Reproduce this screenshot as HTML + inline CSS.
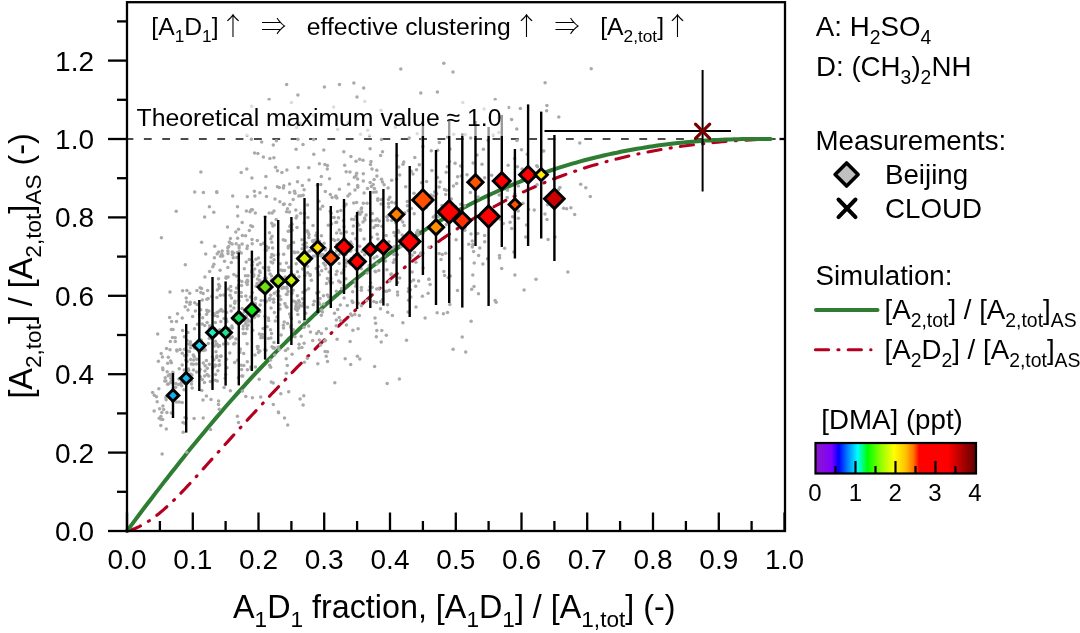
<!DOCTYPE html>
<html><head><meta charset="utf-8"><title>A2,tot ratio vs A1D1 fraction</title><style>
html,body{margin:0;padding:0;background:#fff;overflow:hidden;}
svg{display:block;}
text{font-family:"Liberation Sans",Arial,sans-serif;fill:#000;}
</style></head><body>
<svg width="1080" height="633" viewBox="0 0 1080 633">
<rect width="1080" height="633" fill="#fff"/>
<line x1="127.0" y1="139.0" x2="785" y2="139.0" stroke="#4a4a4a" stroke-width="1.9" stroke-dasharray="7.8 10.55" stroke-dashoffset="1.45"/>
<path d="M127.0,531.1 L131.0,529.9 L135.1,528.5 L139.1,526.7 L143.2,524.5 L147.2,522.1 L151.3,519.4 L155.3,516.5 L159.4,513.3 L163.4,509.9 L167.5,506.2 L171.5,502.5 L175.6,498.5 L179.6,494.4 L183.7,490.2 L187.7,485.9 L191.8,481.5 L195.8,477.1 L199.9,472.6 L203.9,468.1 L208.0,463.5 L212.0,459.0 L216.1,454.5 L220.1,450.1 L224.1,445.6 L228.2,441.1 L232.2,436.6 L236.3,432.2 L240.3,427.8 L244.4,423.3 L248.4,418.9 L252.5,414.5 L256.5,410.2 L260.6,405.8 L264.6,401.5 L268.7,397.2 L272.7,392.8 L276.8,388.6 L280.8,384.3 L284.9,380.1 L288.9,375.8 L293.0,371.6 L297.0,367.4 L301.1,363.3 L305.1,359.2 L309.2,355.1 L313.2,351.0 L317.2,346.9 L321.3,342.9 L325.3,338.9 L329.4,334.9 L333.4,331.0 L337.5,327.1 L341.5,323.2 L345.6,319.4 L349.6,315.6 L353.7,311.8 L357.7,308.1 L361.8,304.3 L365.8,300.7 L369.9,297.0 L373.9,293.4 L378.0,289.9 L382.0,286.3 L386.1,282.9 L390.1,279.4 L394.2,276.0 L398.2,272.7 L402.3,269.3 L406.3,266.1 L410.3,262.8 L414.4,259.6 L418.4,256.5 L422.5,253.4 L426.5,250.3 L430.6,247.3 L434.6,244.4 L438.7,241.5 L442.7,238.6 L446.8,235.8 L450.8,233.1 L454.9,230.3 L458.9,227.7 L463.0,225.1 L467.0,222.5 L471.1,220.0 L475.1,217.6 L479.2,215.2 L483.2,212.8 L487.3,210.5 L491.3,208.2 L495.3,206.0 L499.4,203.8 L503.4,201.7 L507.5,199.6 L511.5,197.6 L515.6,195.6 L519.6,193.7 L523.7,191.8 L527.7,189.9 L531.8,188.1 L535.8,186.3 L539.9,184.6 L543.9,182.9 L548.0,181.2 L552.0,179.6 L556.1,178.0 L560.1,176.5 L564.2,175.0 L568.2,173.6 L572.3,172.1 L576.3,170.8 L580.4,169.4 L584.4,168.1 L588.4,166.8 L592.5,165.6 L596.5,164.4 L600.6,163.2 L604.6,162.1 L608.7,161.0 L612.7,159.9 L616.8,158.9 L620.8,157.9 L624.9,156.9 L628.9,156.0 L633.0,155.1 L637.0,154.2 L641.1,153.3 L645.1,152.5 L649.2,151.7 L653.2,150.9 L657.3,150.2 L661.3,149.5 L665.4,148.8 L669.4,148.2 L673.5,147.5 L677.5,146.9 L681.5,146.3 L685.6,145.8 L689.6,145.3 L693.7,144.8 L697.7,144.3 L701.8,143.8 L705.8,143.4 L709.9,142.9 L713.9,142.5 L718.0,142.2 L722.0,141.8 L726.1,141.5 L730.1,141.2 L734.2,140.9 L738.2,140.6 L742.3,140.3 L746.3,140.1 L750.4,139.9 L754.4,139.6 L758.5,139.4 L762.5,139.3 L766.6,139.1 L770.6,139.0" fill="none" stroke="#b2001e" stroke-width="3.1" stroke-linecap="round" stroke-dasharray="13.2 9.3 1.1 9.2" stroke-dashoffset="-1.2"/>
<path d="M127.0,531.0 L131.0,525.6 L135.1,520.1 L139.1,514.7 L143.2,509.3 L147.2,504.0 L151.3,498.7 L155.3,493.4 L159.4,488.1 L163.4,482.9 L167.5,477.7 L171.5,472.5 L175.6,467.4 L179.6,462.3 L183.7,457.2 L187.7,452.1 L191.8,447.1 L195.8,442.2 L199.9,437.3 L203.9,432.4 L208.0,427.5 L212.0,422.7 L216.1,417.9 L220.1,413.2 L224.1,408.5 L228.2,403.8 L232.2,399.2 L236.3,394.6 L240.3,390.1 L244.4,385.6 L248.4,381.1 L252.5,376.7 L256.5,372.3 L260.6,368.0 L264.6,363.8 L268.7,359.5 L272.7,355.3 L276.8,351.2 L280.8,347.1 L284.9,343.1 L288.9,339.0 L293.0,335.1 L297.0,331.2 L301.1,327.3 L305.1,323.5 L309.2,319.7 L313.2,315.9 L317.2,312.2 L321.3,308.6 L325.3,305.0 L329.4,301.4 L333.4,297.9 L337.5,294.4 L341.5,291.0 L345.6,287.6 L349.6,284.3 L353.7,281.0 L357.7,277.7 L361.8,274.5 L365.8,271.3 L369.9,268.2 L373.9,265.1 L378.0,262.1 L382.0,259.1 L386.1,256.1 L390.1,253.2 L394.2,250.3 L398.2,247.5 L402.3,244.7 L406.3,242.0 L410.3,239.3 L414.4,236.6 L418.4,234.0 L422.5,231.5 L426.5,228.9 L430.6,226.4 L434.6,224.0 L438.7,221.6 L442.7,219.2 L446.8,216.9 L450.8,214.6 L454.9,212.4 L458.9,210.2 L463.0,208.0 L467.0,205.9 L471.1,203.8 L475.1,201.8 L479.2,199.8 L483.2,197.8 L487.3,195.9 L491.3,194.0 L495.3,192.2 L499.4,190.3 L503.4,188.6 L507.5,186.8 L511.5,185.1 L515.6,183.4 L519.6,181.8 L523.7,180.2 L527.7,178.7 L531.8,177.1 L535.8,175.6 L539.9,174.2 L543.9,172.8 L548.0,171.4 L552.0,170.0 L556.1,168.7 L560.1,167.4 L564.2,166.1 L568.2,164.9 L572.3,163.7 L576.3,162.6 L580.4,161.4 L584.4,160.3 L588.4,159.3 L592.5,158.2 L596.5,157.2 L600.6,156.3 L604.6,155.3 L608.7,154.4 L612.7,153.5 L616.8,152.7 L620.8,151.8 L624.9,151.0 L628.9,150.3 L633.0,149.5 L637.0,148.8 L641.1,148.1 L645.1,147.5 L649.2,146.8 L653.2,146.2 L657.3,145.6 L661.3,145.1 L665.4,144.6 L669.4,144.1 L673.5,143.6 L677.5,143.1 L681.5,142.7 L685.6,142.3 L689.6,141.9 L693.7,141.6 L697.7,141.2 L701.8,140.9 L705.8,140.6 L709.9,140.4 L713.9,140.1 L718.0,139.9 L722.0,139.7 L726.1,139.5 L730.1,139.4 L734.2,139.3 L738.2,139.2 L742.3,139.1 L746.3,139.0 L750.4,138.9 L754.4,138.9 L758.5,138.9 L762.5,138.9 L766.6,138.9 L770.6,139.0" fill="none" stroke="#2e7d32" stroke-width="4" stroke-linecap="round"/>
<g fill="#a9a9a9"><circle cx="204.9" cy="277.1" r="1.75"/><circle cx="210.5" cy="429.5" r="1.75"/><circle cx="496.2" cy="302.2" r="1.75"/><circle cx="346.3" cy="260.2" r="1.75"/><circle cx="348.8" cy="262.4" r="1.75"/><circle cx="536.0" cy="279.2" r="1.75"/><circle cx="263.1" cy="328.6" r="1.75"/><circle cx="435.3" cy="215.6" r="1.75"/><circle cx="190.4" cy="341.7" r="1.75"/><circle cx="349.8" cy="194.1" r="1.75"/><circle cx="171.5" cy="375.4" r="1.75"/><circle cx="460.6" cy="166.0" r="1.75"/><circle cx="213.9" cy="359.8" r="1.75"/><circle cx="180.2" cy="384.2" r="1.75"/><circle cx="252.2" cy="265.3" r="1.75"/><circle cx="167.7" cy="363.2" r="1.75"/><circle cx="374.1" cy="179.5" r="1.75"/><circle cx="453.4" cy="186.1" r="1.75"/><circle cx="193.7" cy="359.9" r="1.75"/><circle cx="297.5" cy="181.7" r="1.75"/><circle cx="239.5" cy="252.4" r="1.75"/><circle cx="283.4" cy="204.4" r="1.75"/><circle cx="185.0" cy="373.3" r="1.75"/><circle cx="375.1" cy="271.2" r="1.75"/><circle cx="391.4" cy="274.0" r="1.75"/><circle cx="209.3" cy="364.2" r="1.75"/><circle cx="382.1" cy="226.2" r="1.75"/><circle cx="580.7" cy="184.2" r="1.75"/><circle cx="182.6" cy="290.7" r="1.75"/><circle cx="298.8" cy="195.9" r="1.75"/><circle cx="173.9" cy="397.4" r="1.75"/><circle cx="256.1" cy="286.3" r="1.75"/><circle cx="253.8" cy="274.7" r="1.75"/><circle cx="191.5" cy="384.1" r="1.75"/><circle cx="359.3" cy="315.4" r="1.75"/><circle cx="209.4" cy="206.8" r="1.75"/><circle cx="366.1" cy="215.0" r="1.75"/><circle cx="395.3" cy="127.3" r="1.75"/><circle cx="298.7" cy="300.6" r="1.75"/><circle cx="234.9" cy="343.2" r="1.75"/><circle cx="247.6" cy="281.4" r="1.75"/><circle cx="349.8" cy="262.0" r="1.75"/><circle cx="194.7" cy="302.7" r="1.75"/><circle cx="212.5" cy="356.7" r="1.75"/><circle cx="457.5" cy="216.1" r="1.75"/><circle cx="259.9" cy="311.8" r="1.75"/><circle cx="376.2" cy="192.1" r="1.75"/><circle cx="316.8" cy="293.0" r="1.75"/><circle cx="361.3" cy="290.3" r="1.75"/><circle cx="198.6" cy="347.9" r="1.75"/><circle cx="332.4" cy="282.8" r="1.75"/><circle cx="207.6" cy="290.4" r="1.75"/><circle cx="299.0" cy="276.8" r="1.75"/><circle cx="217.0" cy="312.5" r="1.75"/><circle cx="526.5" cy="224.9" r="1.75"/><circle cx="202.3" cy="379.4" r="1.75"/><circle cx="310.1" cy="274.4" r="1.75"/><circle cx="385.1" cy="291.3" r="1.75"/><circle cx="521.5" cy="149.7" r="1.75"/><circle cx="301.2" cy="336.2" r="1.75"/><circle cx="271.1" cy="262.1" r="1.75"/><circle cx="176.5" cy="402.1" r="1.75"/><circle cx="266.0" cy="278.3" r="1.75"/><circle cx="376.8" cy="330.5" r="1.75"/><circle cx="191.6" cy="381.1" r="1.75"/><circle cx="286.3" cy="373.2" r="1.75"/><circle cx="517.5" cy="166.7" r="1.75"/><circle cx="220.3" cy="295.2" r="1.75"/><circle cx="356.2" cy="250.0" r="1.75"/><circle cx="215.6" cy="374.4" r="1.75"/><circle cx="296.3" cy="306.7" r="1.75"/><circle cx="274.3" cy="293.2" r="1.75"/><circle cx="321.7" cy="270.8" r="1.75"/><circle cx="484.7" cy="241.8" r="1.75"/><circle cx="273.9" cy="157.7" r="1.75"/><circle cx="236.5" cy="322.7" r="1.75"/><circle cx="283.4" cy="188.0" r="1.75"/><circle cx="160.9" cy="416.5" r="1.75"/><circle cx="278.4" cy="412.0" r="1.75"/><circle cx="326.2" cy="356.3" r="1.75"/><circle cx="268.4" cy="318.0" r="1.75"/><circle cx="266.1" cy="246.2" r="1.75"/><circle cx="270.8" cy="238.8" r="1.75"/><circle cx="313.5" cy="115.3" r="1.75"/><circle cx="344.1" cy="298.1" r="1.75"/><circle cx="376.7" cy="289.1" r="1.75"/><circle cx="204.7" cy="325.6" r="1.75"/><circle cx="354.8" cy="314.5" r="1.75"/><circle cx="186.1" cy="418.2" r="1.75"/><circle cx="367.5" cy="188.6" r="1.75"/><circle cx="413.6" cy="280.0" r="1.75"/><circle cx="166.1" cy="399.7" r="1.75"/><circle cx="228.0" cy="253.5" r="1.75"/><circle cx="269.5" cy="232.7" r="1.75"/><circle cx="230.9" cy="290.7" r="1.75"/><circle cx="351.9" cy="244.5" r="1.75"/><circle cx="364.6" cy="218.1" r="1.75"/><circle cx="219.6" cy="329.7" r="1.75"/><circle cx="390.9" cy="274.4" r="1.75"/><circle cx="357.6" cy="179.0" r="1.75"/><circle cx="260.7" cy="396.9" r="1.75"/><circle cx="484.6" cy="177.7" r="1.75"/><circle cx="476.6" cy="182.9" r="1.75"/><circle cx="287.1" cy="288.5" r="1.75"/><circle cx="211.9" cy="296.4" r="1.75"/><circle cx="416.5" cy="169.8" r="1.75"/><circle cx="305.7" cy="290.3" r="1.75"/><circle cx="302.4" cy="185.4" r="1.75"/><circle cx="450.0" cy="149.1" r="1.75"/><circle cx="238.5" cy="377.8" r="1.75"/><circle cx="325.1" cy="351.4" r="1.75"/><circle cx="387.7" cy="312.3" r="1.75"/><circle cx="286.4" cy="262.9" r="1.75"/><circle cx="350.9" cy="156.6" r="1.75"/><circle cx="408.5" cy="300.2" r="1.75"/><circle cx="213.7" cy="313.8" r="1.75"/><circle cx="200.9" cy="172.1" r="1.75"/><circle cx="265.0" cy="292.7" r="1.75"/><circle cx="402.8" cy="221.9" r="1.75"/><circle cx="246.4" cy="211.0" r="1.75"/><circle cx="319.4" cy="339.9" r="1.75"/><circle cx="161.4" cy="237.8" r="1.75"/><circle cx="336.9" cy="198.1" r="1.75"/><circle cx="471.1" cy="321.2" r="1.75"/><circle cx="398.7" cy="167.1" r="1.75"/><circle cx="247.0" cy="328.8" r="1.75"/><circle cx="393.8" cy="254.4" r="1.75"/><circle cx="286.4" cy="294.3" r="1.75"/><circle cx="356.7" cy="173.2" r="1.75"/><circle cx="472.3" cy="247.1" r="1.75"/><circle cx="404.8" cy="213.1" r="1.75"/><circle cx="441.0" cy="259.5" r="1.75"/><circle cx="363.4" cy="203.3" r="1.75"/><circle cx="196.6" cy="371.9" r="1.75"/><circle cx="252.4" cy="209.7" r="1.75"/><circle cx="291.3" cy="329.1" r="1.75"/><circle cx="247.1" cy="343.7" r="1.75"/><circle cx="213.8" cy="314.7" r="1.75"/><circle cx="421.5" cy="191.1" r="1.75"/><circle cx="219.6" cy="364.8" r="1.75"/><circle cx="379.3" cy="250.6" r="1.75"/><circle cx="209.6" cy="271.4" r="1.75"/><circle cx="299.4" cy="322.0" r="1.75"/><circle cx="325.4" cy="340.5" r="1.75"/><circle cx="372.0" cy="168.9" r="1.75"/><circle cx="382.5" cy="182.0" r="1.75"/><circle cx="158.4" cy="361.3" r="1.75"/><circle cx="240.3" cy="349.0" r="1.75"/><circle cx="216.0" cy="351.7" r="1.75"/><circle cx="200.7" cy="309.7" r="1.75"/><circle cx="214.7" cy="246.3" r="1.75"/><circle cx="294.1" cy="251.9" r="1.75"/><circle cx="194.3" cy="348.1" r="1.75"/><circle cx="437.6" cy="150.2" r="1.75"/><circle cx="185.0" cy="417.4" r="1.75"/><circle cx="190.7" cy="359.4" r="1.75"/><circle cx="303.5" cy="252.4" r="1.75"/><circle cx="316.7" cy="333.6" r="1.75"/><circle cx="322.9" cy="254.6" r="1.75"/><circle cx="327.3" cy="168.9" r="1.75"/><circle cx="159.2" cy="418.2" r="1.75"/><circle cx="247.0" cy="326.1" r="1.75"/><circle cx="419.4" cy="202.2" r="1.75"/><circle cx="359.7" cy="246.2" r="1.75"/><circle cx="309.8" cy="250.8" r="1.75"/><circle cx="363.3" cy="180.9" r="1.75"/><circle cx="245.6" cy="235.8" r="1.75"/><circle cx="437.4" cy="92.0" r="1.75"/><circle cx="357.8" cy="187.2" r="1.75"/><circle cx="370.5" cy="282.7" r="1.75"/><circle cx="257.1" cy="283.5" r="1.75"/><circle cx="336.6" cy="233.0" r="1.75"/><circle cx="423.9" cy="205.9" r="1.75"/><circle cx="286.2" cy="358.8" r="1.75"/><circle cx="320.6" cy="345.1" r="1.75"/><circle cx="299.7" cy="305.6" r="1.75"/><circle cx="283.2" cy="287.8" r="1.75"/><circle cx="399.7" cy="278.0" r="1.75"/><circle cx="236.5" cy="287.9" r="1.75"/><circle cx="268.5" cy="338.4" r="1.75"/><circle cx="169.7" cy="374.4" r="1.75"/><circle cx="308.9" cy="234.6" r="1.75"/><circle cx="462.8" cy="102.4" r="1.75"/><circle cx="321.4" cy="254.9" r="1.75"/><circle cx="176.6" cy="396.5" r="1.75"/><circle cx="320.8" cy="184.6" r="1.75"/><circle cx="271.8" cy="254.6" r="1.75"/><circle cx="184.6" cy="423.3" r="1.75"/><circle cx="245.5" cy="275.7" r="1.75"/><circle cx="292.0" cy="293.3" r="1.75"/><circle cx="411.8" cy="246.7" r="1.75"/><circle cx="320.3" cy="208.9" r="1.75"/><circle cx="311.4" cy="280.3" r="1.75"/><circle cx="555.0" cy="237.1" r="1.75"/><circle cx="302.7" cy="269.0" r="1.75"/><circle cx="339.4" cy="189.3" r="1.75"/><circle cx="228.1" cy="277.0" r="1.75"/><circle cx="249.3" cy="259.6" r="1.75"/><circle cx="232.3" cy="254.7" r="1.75"/><circle cx="495.2" cy="99.6" r="1.75"/><circle cx="325.3" cy="191.6" r="1.75"/><circle cx="322.6" cy="206.2" r="1.75"/><circle cx="193.3" cy="355.0" r="1.75"/><circle cx="278.1" cy="347.0" r="1.75"/><circle cx="199.2" cy="352.5" r="1.75"/><circle cx="213.9" cy="264.2" r="1.75"/><circle cx="351.7" cy="219.3" r="1.75"/><circle cx="203.4" cy="192.4" r="1.75"/><circle cx="399.4" cy="378.9" r="1.75"/><circle cx="175.9" cy="383.6" r="1.75"/><circle cx="370.5" cy="164.5" r="1.75"/><circle cx="276.2" cy="219.5" r="1.75"/><circle cx="251.6" cy="272.1" r="1.75"/><circle cx="272.9" cy="225.9" r="1.75"/><circle cx="304.7" cy="320.6" r="1.75"/><circle cx="455.6" cy="206.7" r="1.75"/><circle cx="211.0" cy="399.4" r="1.75"/><circle cx="255.2" cy="299.1" r="1.75"/><circle cx="566.6" cy="208.7" r="1.75"/><circle cx="518.4" cy="185.9" r="1.75"/><circle cx="237.3" cy="252.5" r="1.75"/><circle cx="383.0" cy="251.1" r="1.75"/><circle cx="242.4" cy="391.1" r="1.75"/><circle cx="312.6" cy="240.8" r="1.75"/><circle cx="377.9" cy="238.9" r="1.75"/><circle cx="321.6" cy="309.9" r="1.75"/><circle cx="352.7" cy="233.5" r="1.75"/><circle cx="433.2" cy="196.0" r="1.75"/><circle cx="265.0" cy="349.7" r="1.75"/><circle cx="260.1" cy="272.4" r="1.75"/><circle cx="277.0" cy="291.7" r="1.75"/><circle cx="444.5" cy="189.4" r="1.75"/><circle cx="260.8" cy="337.8" r="1.75"/><circle cx="278.7" cy="281.8" r="1.75"/><circle cx="295.8" cy="210.0" r="1.75"/><circle cx="251.9" cy="178.1" r="1.75"/><circle cx="479.8" cy="247.9" r="1.75"/><circle cx="478.6" cy="255.4" r="1.75"/><circle cx="369.1" cy="290.2" r="1.75"/><circle cx="321.4" cy="333.6" r="1.75"/><circle cx="295.5" cy="309.1" r="1.75"/><circle cx="367.0" cy="203.3" r="1.75"/><circle cx="189.9" cy="304.2" r="1.75"/><circle cx="257.5" cy="264.7" r="1.75"/><circle cx="439.3" cy="142.5" r="1.75"/><circle cx="425.2" cy="207.4" r="1.75"/><circle cx="378.9" cy="288.5" r="1.75"/><circle cx="203.0" cy="348.7" r="1.75"/><circle cx="456.6" cy="183.6" r="1.75"/><circle cx="181.7" cy="385.7" r="1.75"/><circle cx="233.3" cy="257.7" r="1.75"/><circle cx="275.6" cy="167.3" r="1.75"/><circle cx="356.0" cy="216.4" r="1.75"/><circle cx="290.6" cy="225.3" r="1.75"/><circle cx="337.6" cy="129.6" r="1.75"/><circle cx="241.5" cy="285.4" r="1.75"/><circle cx="263.4" cy="157.0" r="1.75"/><circle cx="228.7" cy="246.6" r="1.75"/><circle cx="389.8" cy="281.1" r="1.75"/><circle cx="241.2" cy="172.4" r="1.75"/><circle cx="243.8" cy="365.4" r="1.75"/><circle cx="397.6" cy="295.1" r="1.75"/><circle cx="430.9" cy="195.1" r="1.75"/><circle cx="391.8" cy="202.3" r="1.75"/><circle cx="171.5" cy="382.4" r="1.75"/><circle cx="304.4" cy="362.2" r="1.75"/><circle cx="181.4" cy="382.6" r="1.75"/><circle cx="184.6" cy="355.8" r="1.75"/><circle cx="239.8" cy="350.7" r="1.75"/><circle cx="327.5" cy="351.8" r="1.75"/><circle cx="330.9" cy="278.5" r="1.75"/><circle cx="229.3" cy="328.5" r="1.75"/><circle cx="244.7" cy="320.6" r="1.75"/><circle cx="426.6" cy="181.4" r="1.75"/><circle cx="313.8" cy="154.3" r="1.75"/><circle cx="386.0" cy="248.1" r="1.75"/><circle cx="237.8" cy="317.8" r="1.75"/><circle cx="296.3" cy="307.1" r="1.75"/><circle cx="219.8" cy="310.7" r="1.75"/><circle cx="384.1" cy="184.7" r="1.75"/><circle cx="255.9" cy="259.2" r="1.75"/><circle cx="338.5" cy="217.7" r="1.75"/><circle cx="364.1" cy="239.0" r="1.75"/><circle cx="212.8" cy="266.8" r="1.75"/><circle cx="401.2" cy="246.7" r="1.75"/><circle cx="208.7" cy="375.9" r="1.75"/><circle cx="341.6" cy="272.9" r="1.75"/><circle cx="567.9" cy="272.0" r="1.75"/><circle cx="374.6" cy="366.5" r="1.75"/><circle cx="473.8" cy="184.5" r="1.75"/><circle cx="337.1" cy="244.2" r="1.75"/><circle cx="375.9" cy="225.5" r="1.75"/><circle cx="334.1" cy="217.4" r="1.75"/><circle cx="158.8" cy="388.7" r="1.75"/><circle cx="312.7" cy="340.4" r="1.75"/><circle cx="234.9" cy="301.2" r="1.75"/><circle cx="445.7" cy="194.4" r="1.75"/><circle cx="196.9" cy="290.4" r="1.75"/><circle cx="299.2" cy="302.3" r="1.75"/><circle cx="530.1" cy="173.6" r="1.75"/><circle cx="183.0" cy="422.6" r="1.75"/><circle cx="377.2" cy="219.1" r="1.75"/><circle cx="383.8" cy="256.0" r="1.75"/><circle cx="319.4" cy="163.7" r="1.75"/><circle cx="386.9" cy="269.8" r="1.75"/><circle cx="260.1" cy="305.0" r="1.75"/><circle cx="358.3" cy="211.9" r="1.75"/><circle cx="563.6" cy="208.3" r="1.75"/><circle cx="237.5" cy="360.2" r="1.75"/><circle cx="248.0" cy="321.2" r="1.75"/><circle cx="465.1" cy="227.5" r="1.75"/><circle cx="293.2" cy="199.6" r="1.75"/><circle cx="171.3" cy="413.0" r="1.75"/><circle cx="377.8" cy="200.3" r="1.75"/><circle cx="247.2" cy="300.0" r="1.75"/><circle cx="204.5" cy="382.5" r="1.75"/><circle cx="230.1" cy="295.2" r="1.75"/><circle cx="297.9" cy="95.0" r="1.75"/><circle cx="309.1" cy="261.5" r="1.75"/><circle cx="369.5" cy="135.8" r="1.75"/><circle cx="294.5" cy="191.3" r="1.75"/><circle cx="283.3" cy="239.8" r="1.75"/><circle cx="416.6" cy="232.6" r="1.75"/><circle cx="527.3" cy="154.3" r="1.75"/><circle cx="217.1" cy="344.3" r="1.75"/><circle cx="350.4" cy="251.2" r="1.75"/><circle cx="516.8" cy="128.9" r="1.75"/><circle cx="239.3" cy="295.9" r="1.75"/><circle cx="178.9" cy="379.1" r="1.75"/><circle cx="381.5" cy="179.2" r="1.75"/><circle cx="230.7" cy="286.5" r="1.75"/><circle cx="201.3" cy="339.9" r="1.75"/><circle cx="534.2" cy="210.0" r="1.75"/><circle cx="288.0" cy="291.6" r="1.75"/><circle cx="284.5" cy="270.4" r="1.75"/><circle cx="284.8" cy="287.8" r="1.75"/><circle cx="271.6" cy="280.0" r="1.75"/><circle cx="238.7" cy="285.3" r="1.75"/><circle cx="484.6" cy="235.5" r="1.75"/><circle cx="398.0" cy="239.9" r="1.75"/><circle cx="251.4" cy="139.2" r="1.75"/><circle cx="279.3" cy="187.5" r="1.75"/><circle cx="431.3" cy="150.7" r="1.75"/><circle cx="284.3" cy="203.9" r="1.75"/><circle cx="273.6" cy="299.3" r="1.75"/><circle cx="247.4" cy="369.7" r="1.75"/><circle cx="237.7" cy="216.1" r="1.75"/><circle cx="224.1" cy="387.5" r="1.75"/><circle cx="255.5" cy="366.9" r="1.75"/><circle cx="168.3" cy="357.3" r="1.75"/><circle cx="232.1" cy="244.0" r="1.75"/><circle cx="201.5" cy="288.6" r="1.75"/><circle cx="189.7" cy="293.2" r="1.75"/><circle cx="548.1" cy="239.4" r="1.75"/><circle cx="170.3" cy="341.6" r="1.75"/><circle cx="462.2" cy="337.0" r="1.75"/><circle cx="243.3" cy="326.0" r="1.75"/><circle cx="487.5" cy="258.8" r="1.75"/><circle cx="248.1" cy="275.7" r="1.75"/><circle cx="410.9" cy="281.4" r="1.75"/><circle cx="290.0" cy="245.6" r="1.75"/><circle cx="453.7" cy="134.2" r="1.75"/><circle cx="487.6" cy="225.9" r="1.75"/><circle cx="246.8" cy="169.0" r="1.75"/><circle cx="291.1" cy="325.5" r="1.75"/><circle cx="225.8" cy="341.6" r="1.75"/><circle cx="289.7" cy="231.0" r="1.75"/><circle cx="414.2" cy="213.7" r="1.75"/><circle cx="226.3" cy="319.0" r="1.75"/><circle cx="325.4" cy="248.3" r="1.75"/><circle cx="257.3" cy="346.4" r="1.75"/><circle cx="357.4" cy="222.9" r="1.75"/><circle cx="347.9" cy="195.9" r="1.75"/><circle cx="421.6" cy="182.7" r="1.75"/><circle cx="357.4" cy="356.3" r="1.75"/><circle cx="357.7" cy="185.5" r="1.75"/><circle cx="297.7" cy="252.3" r="1.75"/><circle cx="171.4" cy="362.7" r="1.75"/><circle cx="343.8" cy="151.8" r="1.75"/><circle cx="329.1" cy="272.0" r="1.75"/><circle cx="345.9" cy="278.7" r="1.75"/><circle cx="214.7" cy="315.4" r="1.75"/><circle cx="154.3" cy="395.2" r="1.75"/><circle cx="316.2" cy="268.5" r="1.75"/><circle cx="323.6" cy="263.3" r="1.75"/><circle cx="179.2" cy="368.8" r="1.75"/><circle cx="287.0" cy="307.3" r="1.75"/><circle cx="411.2" cy="171.3" r="1.75"/><circle cx="290.5" cy="316.9" r="1.75"/><circle cx="346.5" cy="263.0" r="1.75"/><circle cx="329.5" cy="178.8" r="1.75"/><circle cx="285.2" cy="240.4" r="1.75"/><circle cx="402.2" cy="235.1" r="1.75"/><circle cx="202.6" cy="317.7" r="1.75"/><circle cx="408.3" cy="291.4" r="1.75"/><circle cx="464.8" cy="230.3" r="1.75"/><circle cx="199.1" cy="371.6" r="1.75"/><circle cx="152.6" cy="392.5" r="1.75"/><circle cx="187.0" cy="361.6" r="1.75"/><circle cx="408.1" cy="210.8" r="1.75"/><circle cx="274.1" cy="259.7" r="1.75"/><circle cx="397.4" cy="254.8" r="1.75"/><circle cx="361.4" cy="268.7" r="1.75"/><circle cx="259.9" cy="350.9" r="1.75"/><circle cx="247.3" cy="361.7" r="1.75"/><circle cx="222.7" cy="256.1" r="1.75"/><circle cx="291.3" cy="272.1" r="1.75"/><circle cx="355.2" cy="281.5" r="1.75"/><circle cx="286.6" cy="84.5" r="1.75"/><circle cx="192.9" cy="344.9" r="1.75"/><circle cx="513.9" cy="252.1" r="1.75"/><circle cx="362.1" cy="251.5" r="1.75"/><circle cx="217.3" cy="380.9" r="1.75"/><circle cx="399.7" cy="174.9" r="1.75"/><circle cx="315.7" cy="255.8" r="1.75"/><circle cx="182.3" cy="353.2" r="1.75"/><circle cx="254.7" cy="269.0" r="1.75"/><circle cx="239.1" cy="251.2" r="1.75"/><circle cx="276.4" cy="140.8" r="1.75"/><circle cx="206.6" cy="314.2" r="1.75"/><circle cx="300.9" cy="195.8" r="1.75"/><circle cx="288.4" cy="246.3" r="1.75"/><circle cx="408.1" cy="312.0" r="1.75"/><circle cx="340.2" cy="282.2" r="1.75"/><circle cx="260.8" cy="244.5" r="1.75"/><circle cx="194.7" cy="191.9" r="1.75"/><circle cx="467.0" cy="174.7" r="1.75"/><circle cx="242.8" cy="376.1" r="1.75"/><circle cx="283.4" cy="325.2" r="1.75"/><circle cx="367.2" cy="272.9" r="1.75"/><circle cx="443.8" cy="63.2" r="1.75"/><circle cx="279.9" cy="201.8" r="1.75"/><circle cx="407.4" cy="205.8" r="1.75"/><circle cx="367.7" cy="130.3" r="1.75"/><circle cx="456.1" cy="239.8" r="1.75"/><circle cx="287.6" cy="323.6" r="1.75"/><circle cx="203.9" cy="348.4" r="1.75"/><circle cx="353.9" cy="83.0" r="1.75"/><circle cx="161.8" cy="412.4" r="1.75"/><circle cx="448.3" cy="277.8" r="1.75"/><circle cx="371.3" cy="186.4" r="1.75"/><circle cx="243.7" cy="353.6" r="1.75"/><circle cx="217.9" cy="370.8" r="1.75"/><circle cx="363.0" cy="160.3" r="1.75"/><circle cx="403.0" cy="164.3" r="1.75"/><circle cx="281.0" cy="270.1" r="1.75"/><circle cx="409.2" cy="138.0" r="1.75"/><circle cx="220.7" cy="356.3" r="1.75"/><circle cx="332.1" cy="197.5" r="1.75"/><circle cx="163.7" cy="409.6" r="1.75"/><circle cx="207.6" cy="311.8" r="1.75"/><circle cx="381.1" cy="204.1" r="1.75"/><circle cx="491.6" cy="175.3" r="1.75"/><circle cx="185.2" cy="306.7" r="1.75"/><circle cx="405.7" cy="186.8" r="1.75"/><circle cx="397.5" cy="282.4" r="1.75"/><circle cx="389.3" cy="290.2" r="1.75"/><circle cx="277.4" cy="186.7" r="1.75"/><circle cx="314.6" cy="240.2" r="1.75"/><circle cx="363.7" cy="88.1" r="1.75"/><circle cx="394.4" cy="246.6" r="1.75"/><circle cx="350.6" cy="314.0" r="1.75"/><circle cx="165.2" cy="377.7" r="1.75"/><circle cx="304.1" cy="343.3" r="1.75"/><circle cx="186.8" cy="452.3" r="1.75"/><circle cx="319.3" cy="274.7" r="1.75"/><circle cx="381.2" cy="341.9" r="1.75"/><circle cx="331.2" cy="213.5" r="1.75"/><circle cx="351.2" cy="258.4" r="1.75"/><circle cx="354.4" cy="177.3" r="1.75"/><circle cx="246.3" cy="282.3" r="1.75"/><circle cx="324.1" cy="243.2" r="1.75"/><circle cx="226.1" cy="277.0" r="1.75"/><circle cx="318.9" cy="253.6" r="1.75"/><circle cx="335.8" cy="222.4" r="1.75"/><circle cx="274.4" cy="312.4" r="1.75"/><circle cx="165.8" cy="397.4" r="1.75"/><circle cx="385.5" cy="261.0" r="1.75"/><circle cx="326.9" cy="256.0" r="1.75"/><circle cx="520.3" cy="108.4" r="1.75"/><circle cx="194.1" cy="418.5" r="1.75"/><circle cx="289.6" cy="183.9" r="1.75"/><circle cx="337.7" cy="309.5" r="1.75"/><circle cx="167.2" cy="371.7" r="1.75"/><circle cx="546.6" cy="110.7" r="1.75"/><circle cx="356.0" cy="175.8" r="1.75"/><circle cx="453.0" cy="72.0" r="1.75"/><circle cx="203.2" cy="417.9" r="1.75"/><circle cx="287.5" cy="124.9" r="1.75"/><circle cx="286.3" cy="287.7" r="1.75"/><circle cx="308.6" cy="288.7" r="1.75"/><circle cx="370.2" cy="182.5" r="1.75"/><circle cx="374.4" cy="188.6" r="1.75"/><circle cx="518.2" cy="210.9" r="1.75"/><circle cx="318.8" cy="291.9" r="1.75"/><circle cx="255.3" cy="213.1" r="1.75"/><circle cx="359.6" cy="159.3" r="1.75"/><circle cx="343.5" cy="220.8" r="1.75"/><circle cx="184.3" cy="336.8" r="1.75"/><circle cx="395.3" cy="235.8" r="1.75"/><circle cx="382.5" cy="151.8" r="1.75"/><circle cx="169.6" cy="317.4" r="1.75"/><circle cx="334.8" cy="382.8" r="1.75"/><circle cx="303.1" cy="404.9" r="1.75"/><circle cx="388.1" cy="188.1" r="1.75"/><circle cx="241.4" cy="296.4" r="1.75"/><circle cx="298.9" cy="348.1" r="1.75"/><circle cx="230.4" cy="390.8" r="1.75"/><circle cx="182.6" cy="330.4" r="1.75"/><circle cx="392.4" cy="315.5" r="1.75"/><circle cx="523.0" cy="203.2" r="1.75"/><circle cx="355.0" cy="190.1" r="1.75"/><circle cx="259.9" cy="263.0" r="1.75"/><circle cx="445.7" cy="253.2" r="1.75"/><circle cx="263.5" cy="283.4" r="1.75"/><circle cx="373.2" cy="184.6" r="1.75"/><circle cx="320.0" cy="298.4" r="1.75"/><circle cx="235.6" cy="292.4" r="1.75"/><circle cx="283.7" cy="254.3" r="1.75"/><circle cx="307.5" cy="307.2" r="1.75"/><circle cx="258.1" cy="310.6" r="1.75"/><circle cx="307.6" cy="272.7" r="1.75"/><circle cx="352.0" cy="301.1" r="1.75"/><circle cx="238.5" cy="422.6" r="1.75"/><circle cx="336.2" cy="325.8" r="1.75"/><circle cx="291.3" cy="318.8" r="1.75"/><circle cx="184.5" cy="349.3" r="1.75"/><circle cx="214.9" cy="366.3" r="1.75"/><circle cx="265.4" cy="188.0" r="1.75"/><circle cx="351.0" cy="250.1" r="1.75"/><circle cx="216.9" cy="356.0" r="1.75"/><circle cx="318.8" cy="301.9" r="1.75"/><circle cx="403.8" cy="162.0" r="1.75"/><circle cx="270.9" cy="338.1" r="1.75"/><circle cx="450.5" cy="217.7" r="1.75"/><circle cx="220.8" cy="321.5" r="1.75"/><circle cx="485.6" cy="215.0" r="1.75"/><circle cx="182.2" cy="318.0" r="1.75"/><circle cx="248.2" cy="325.1" r="1.75"/><circle cx="164.8" cy="381.0" r="1.75"/><circle cx="455.1" cy="163.3" r="1.75"/><circle cx="278.1" cy="254.9" r="1.75"/><circle cx="257.9" cy="153.5" r="1.75"/><circle cx="288.7" cy="391.7" r="1.75"/><circle cx="361.2" cy="209.1" r="1.75"/><circle cx="307.6" cy="205.0" r="1.75"/><circle cx="421.9" cy="199.7" r="1.75"/><circle cx="303.0" cy="144.5" r="1.75"/><circle cx="312.8" cy="250.3" r="1.75"/><circle cx="388.7" cy="206.9" r="1.75"/><circle cx="243.4" cy="333.5" r="1.75"/><circle cx="286.9" cy="170.1" r="1.75"/><circle cx="283.8" cy="185.8" r="1.75"/><circle cx="375.6" cy="323.2" r="1.75"/><circle cx="514.6" cy="158.4" r="1.75"/><circle cx="339.2" cy="230.0" r="1.75"/><circle cx="558.8" cy="117.1" r="1.75"/><circle cx="293.6" cy="242.6" r="1.75"/><circle cx="345.9" cy="254.5" r="1.75"/><circle cx="511.7" cy="228.6" r="1.75"/><circle cx="190.5" cy="374.1" r="1.75"/><circle cx="474.0" cy="286.5" r="1.75"/><circle cx="304.1" cy="327.2" r="1.75"/><circle cx="389.8" cy="197.2" r="1.75"/><circle cx="187.9" cy="332.5" r="1.75"/><circle cx="474.1" cy="189.0" r="1.75"/><circle cx="422.2" cy="139.1" r="1.75"/><circle cx="394.3" cy="259.7" r="1.75"/><circle cx="190.4" cy="344.4" r="1.75"/><circle cx="391.8" cy="220.6" r="1.75"/><circle cx="585.8" cy="187.7" r="1.75"/><circle cx="218.6" cy="401.1" r="1.75"/><circle cx="310.5" cy="331.9" r="1.75"/><circle cx="404.2" cy="225.6" r="1.75"/><circle cx="287.7" cy="425.0" r="1.75"/><circle cx="303.0" cy="253.5" r="1.75"/><circle cx="375.7" cy="220.2" r="1.75"/><circle cx="440.2" cy="181.9" r="1.75"/><circle cx="296.8" cy="216.0" r="1.75"/><circle cx="318.9" cy="201.2" r="1.75"/><circle cx="229.3" cy="242.0" r="1.75"/><circle cx="203.1" cy="293.4" r="1.75"/><circle cx="252.4" cy="397.7" r="1.75"/><circle cx="213.8" cy="212.2" r="1.75"/><circle cx="221.8" cy="254.0" r="1.75"/><circle cx="235.9" cy="338.9" r="1.75"/><circle cx="314.2" cy="301.3" r="1.75"/><circle cx="508.6" cy="107.5" r="1.75"/><circle cx="241.8" cy="281.4" r="1.75"/><circle cx="242.3" cy="315.6" r="1.75"/><circle cx="409.6" cy="253.2" r="1.75"/><circle cx="214.3" cy="346.0" r="1.75"/><circle cx="232.2" cy="251.9" r="1.75"/><circle cx="494.9" cy="212.2" r="1.75"/><circle cx="346.4" cy="324.9" r="1.75"/><circle cx="325.3" cy="250.1" r="1.75"/><circle cx="280.0" cy="309.0" r="1.75"/><circle cx="274.0" cy="210.9" r="1.75"/><circle cx="401.2" cy="120.3" r="1.75"/><circle cx="419.3" cy="164.8" r="1.75"/><circle cx="216.8" cy="192.5" r="1.75"/><circle cx="225.8" cy="327.4" r="1.75"/><circle cx="178.2" cy="384.5" r="1.75"/><circle cx="180.0" cy="349.6" r="1.75"/><circle cx="200.8" cy="292.4" r="1.75"/><circle cx="375.0" cy="317.9" r="1.75"/><circle cx="236.4" cy="276.0" r="1.75"/><circle cx="337.5" cy="211.5" r="1.75"/><circle cx="231.5" cy="297.9" r="1.75"/><circle cx="207.3" cy="368.2" r="1.75"/><circle cx="196.4" cy="364.0" r="1.75"/><circle cx="236.9" cy="313.9" r="1.75"/><circle cx="366.6" cy="300.8" r="1.75"/><circle cx="186.9" cy="290.4" r="1.75"/><circle cx="453.1" cy="349.2" r="1.75"/><circle cx="257.3" cy="240.6" r="1.75"/><circle cx="360.4" cy="229.5" r="1.75"/><circle cx="282.5" cy="270.6" r="1.75"/><circle cx="272.2" cy="213.0" r="1.75"/><circle cx="176.2" cy="211.3" r="1.75"/><circle cx="296.1" cy="149.3" r="1.75"/><circle cx="241.6" cy="369.4" r="1.75"/><circle cx="271.1" cy="257.2" r="1.75"/><circle cx="175.3" cy="341.4" r="1.75"/><circle cx="176.8" cy="350.0" r="1.75"/><circle cx="241.3" cy="365.2" r="1.75"/><circle cx="265.4" cy="250.0" r="1.75"/><circle cx="375.7" cy="271.8" r="1.75"/><circle cx="333.6" cy="106.9" r="1.75"/><circle cx="397.0" cy="155.4" r="1.75"/><circle cx="265.9" cy="176.4" r="1.75"/><circle cx="227.8" cy="247.7" r="1.75"/><circle cx="249.9" cy="313.7" r="1.75"/><circle cx="247.3" cy="284.5" r="1.75"/><circle cx="172.9" cy="372.2" r="1.75"/><circle cx="218.7" cy="252.0" r="1.75"/><circle cx="319.8" cy="304.2" r="1.75"/><circle cx="301.2" cy="254.2" r="1.75"/><circle cx="352.8" cy="302.5" r="1.75"/><circle cx="288.8" cy="267.3" r="1.75"/><circle cx="280.8" cy="299.5" r="1.75"/><circle cx="209.7" cy="325.8" r="1.75"/><circle cx="420.8" cy="93.0" r="1.75"/><circle cx="284.2" cy="322.1" r="1.75"/><circle cx="227.9" cy="343.8" r="1.75"/><circle cx="451.3" cy="199.1" r="1.75"/><circle cx="288.2" cy="247.9" r="1.75"/><circle cx="305.7" cy="313.2" r="1.75"/><circle cx="330.7" cy="283.2" r="1.75"/><circle cx="236.8" cy="257.4" r="1.75"/><circle cx="259.6" cy="271.1" r="1.75"/><circle cx="172.2" cy="393.2" r="1.75"/><circle cx="503.3" cy="223.5" r="1.75"/><circle cx="393.1" cy="216.0" r="1.75"/><circle cx="331.6" cy="223.8" r="1.75"/><circle cx="204.7" cy="376.1" r="1.75"/><circle cx="162.9" cy="369.8" r="1.75"/><circle cx="499.8" cy="219.1" r="1.75"/><circle cx="202.0" cy="342.9" r="1.75"/><circle cx="209.9" cy="334.4" r="1.75"/><circle cx="304.8" cy="258.8" r="1.75"/><circle cx="372.4" cy="213.6" r="1.75"/><circle cx="473.6" cy="251.5" r="1.75"/><circle cx="277.6" cy="295.4" r="1.75"/><circle cx="291.5" cy="227.8" r="1.75"/><circle cx="292.1" cy="224.2" r="1.75"/><circle cx="250.6" cy="321.3" r="1.75"/><circle cx="339.0" cy="254.6" r="1.75"/><circle cx="184.2" cy="370.1" r="1.75"/><circle cx="377.2" cy="234.2" r="1.75"/><circle cx="259.9" cy="281.4" r="1.75"/><circle cx="185.3" cy="264.8" r="1.75"/><circle cx="219.3" cy="409.3" r="1.75"/><circle cx="296.0" cy="305.8" r="1.75"/><circle cx="250.4" cy="297.1" r="1.75"/><circle cx="269.7" cy="300.0" r="1.75"/><circle cx="272.0" cy="346.7" r="1.75"/><circle cx="232.8" cy="319.1" r="1.75"/><circle cx="253.1" cy="302.4" r="1.75"/><circle cx="360.4" cy="230.3" r="1.75"/><circle cx="284.5" cy="417.9" r="1.75"/><circle cx="354.3" cy="255.7" r="1.75"/><circle cx="465.7" cy="352.0" r="1.75"/><circle cx="388.9" cy="241.8" r="1.75"/><circle cx="303.2" cy="303.3" r="1.75"/><circle cx="199.5" cy="314.4" r="1.75"/><circle cx="322.4" cy="312.1" r="1.75"/><circle cx="473.1" cy="162.9" r="1.75"/><circle cx="162.7" cy="368.1" r="1.75"/><circle cx="212.7" cy="368.1" r="1.75"/><circle cx="261.4" cy="290.4" r="1.75"/><circle cx="187.0" cy="340.5" r="1.75"/><circle cx="408.7" cy="288.4" r="1.75"/><circle cx="258.8" cy="275.7" r="1.75"/><circle cx="327.0" cy="261.0" r="1.75"/><circle cx="337.0" cy="271.2" r="1.75"/><circle cx="437.9" cy="217.1" r="1.75"/><circle cx="176.5" cy="321.6" r="1.75"/><circle cx="170.6" cy="361.0" r="1.75"/><circle cx="387.5" cy="304.7" r="1.75"/><circle cx="339.2" cy="263.6" r="1.75"/><circle cx="420.7" cy="253.0" r="1.75"/><circle cx="358.7" cy="255.2" r="1.75"/><circle cx="340.8" cy="210.5" r="1.75"/><circle cx="233.7" cy="344.0" r="1.75"/><circle cx="254.4" cy="317.6" r="1.75"/><circle cx="162.9" cy="405.9" r="1.75"/><circle cx="278.6" cy="412.7" r="1.75"/><circle cx="233.9" cy="307.9" r="1.75"/><circle cx="171.4" cy="329.4" r="1.75"/><circle cx="247.0" cy="248.5" r="1.75"/><circle cx="222.8" cy="311.2" r="1.75"/><circle cx="280.8" cy="393.7" r="1.75"/><circle cx="161.0" cy="419.3" r="1.75"/><circle cx="321.3" cy="315.3" r="1.75"/><circle cx="257.7" cy="315.7" r="1.75"/><circle cx="167.6" cy="384.2" r="1.75"/><circle cx="361.4" cy="287.5" r="1.75"/><circle cx="218.5" cy="278.7" r="1.75"/><circle cx="297.4" cy="295.8" r="1.75"/><circle cx="437.1" cy="312.7" r="1.75"/><circle cx="234.7" cy="303.3" r="1.75"/><circle cx="259.7" cy="289.4" r="1.75"/><circle cx="327.4" cy="295.1" r="1.75"/><circle cx="341.4" cy="245.0" r="1.75"/><circle cx="512.6" cy="216.8" r="1.75"/><circle cx="516.9" cy="140.4" r="1.75"/><circle cx="271.7" cy="223.3" r="1.75"/><circle cx="345.9" cy="241.6" r="1.75"/><circle cx="252.2" cy="243.7" r="1.75"/><circle cx="255.0" cy="354.9" r="1.75"/><circle cx="207.2" cy="374.4" r="1.75"/><circle cx="262.7" cy="337.4" r="1.75"/><circle cx="273.6" cy="348.2" r="1.75"/><circle cx="323.7" cy="304.1" r="1.75"/><circle cx="215.3" cy="322.5" r="1.75"/><circle cx="323.8" cy="150.0" r="1.75"/><circle cx="352.6" cy="291.8" r="1.75"/><circle cx="270.6" cy="359.9" r="1.75"/><circle cx="499.5" cy="255.6" r="1.75"/><circle cx="327.5" cy="361.5" r="1.75"/><circle cx="398.2" cy="230.6" r="1.75"/><circle cx="317.5" cy="185.3" r="1.75"/><circle cx="231.2" cy="311.1" r="1.75"/><circle cx="376.3" cy="336.7" r="1.75"/><circle cx="414.6" cy="252.6" r="1.75"/><circle cx="487.0" cy="220.8" r="1.75"/><circle cx="325.9" cy="268.7" r="1.75"/><circle cx="446.3" cy="224.4" r="1.75"/><circle cx="470.4" cy="192.6" r="1.75"/><circle cx="252.7" cy="272.0" r="1.75"/><circle cx="410.4" cy="289.8" r="1.75"/><circle cx="297.8" cy="314.5" r="1.75"/><circle cx="230.4" cy="238.6" r="1.75"/><circle cx="416.0" cy="306.9" r="1.75"/><circle cx="446.2" cy="205.3" r="1.75"/><circle cx="268.9" cy="270.2" r="1.75"/><circle cx="247.1" cy="135.2" r="1.75"/><circle cx="387.0" cy="216.7" r="1.75"/><circle cx="215.3" cy="365.1" r="1.75"/><circle cx="235.8" cy="231.9" r="1.75"/><circle cx="170.9" cy="378.2" r="1.75"/><circle cx="184.4" cy="375.0" r="1.75"/><circle cx="346.6" cy="260.2" r="1.75"/><circle cx="289.5" cy="212.1" r="1.75"/><circle cx="184.4" cy="375.9" r="1.75"/><circle cx="273.3" cy="145.1" r="1.75"/><circle cx="387.7" cy="220.3" r="1.75"/><circle cx="423.2" cy="233.1" r="1.75"/><circle cx="319.4" cy="241.3" r="1.75"/><circle cx="287.1" cy="294.4" r="1.75"/><circle cx="327.3" cy="258.8" r="1.75"/><circle cx="321.4" cy="235.8" r="1.75"/><circle cx="200.4" cy="376.7" r="1.75"/><circle cx="214.4" cy="257.8" r="1.75"/><circle cx="184.7" cy="383.2" r="1.75"/><circle cx="304.5" cy="213.5" r="1.75"/><circle cx="242.1" cy="308.4" r="1.75"/><circle cx="247.4" cy="246.1" r="1.75"/><circle cx="232.2" cy="328.0" r="1.75"/><circle cx="344.0" cy="226.8" r="1.75"/><circle cx="170.0" cy="349.7" r="1.75"/><circle cx="443.4" cy="313.8" r="1.75"/><circle cx="166.3" cy="428.9" r="1.75"/><circle cx="317.3" cy="238.3" r="1.75"/><circle cx="377.9" cy="225.4" r="1.75"/><circle cx="302.1" cy="248.7" r="1.75"/><circle cx="162.4" cy="356.9" r="1.75"/><circle cx="247.3" cy="196.7" r="1.75"/><circle cx="205.7" cy="253.9" r="1.75"/><circle cx="321.3" cy="176.4" r="1.75"/><circle cx="171.6" cy="321.6" r="1.75"/><circle cx="231.3" cy="262.6" r="1.75"/><circle cx="257.8" cy="349.1" r="1.75"/><circle cx="217.5" cy="316.2" r="1.75"/><circle cx="317.8" cy="363.8" r="1.75"/><circle cx="296.1" cy="218.1" r="1.75"/><circle cx="208.3" cy="343.6" r="1.75"/><circle cx="270.1" cy="274.0" r="1.75"/><circle cx="177.5" cy="394.9" r="1.75"/><circle cx="543.8" cy="151.0" r="1.75"/><circle cx="296.6" cy="127.4" r="1.75"/><circle cx="363.0" cy="221.9" r="1.75"/><circle cx="252.2" cy="270.3" r="1.75"/><circle cx="455.2" cy="216.8" r="1.75"/><circle cx="194.2" cy="356.8" r="1.75"/><circle cx="217.4" cy="290.0" r="1.75"/><circle cx="305.7" cy="260.3" r="1.75"/><circle cx="499.2" cy="195.0" r="1.75"/><circle cx="269.9" cy="158.5" r="1.75"/><circle cx="465.3" cy="134.5" r="1.75"/><circle cx="396.1" cy="211.5" r="1.75"/><circle cx="210.0" cy="338.2" r="1.75"/><circle cx="216.9" cy="297.6" r="1.75"/><circle cx="277.0" cy="316.9" r="1.75"/><circle cx="287.5" cy="208.8" r="1.75"/><circle cx="397.5" cy="217.8" r="1.75"/><circle cx="545.1" cy="173.8" r="1.75"/><circle cx="197.5" cy="324.2" r="1.75"/><circle cx="312.1" cy="247.7" r="1.75"/><circle cx="414.0" cy="193.3" r="1.75"/><circle cx="290.6" cy="326.9" r="1.75"/><circle cx="468.8" cy="244.3" r="1.75"/><circle cx="395.8" cy="222.8" r="1.75"/><circle cx="259.9" cy="192.8" r="1.75"/><circle cx="270.5" cy="329.8" r="1.75"/><circle cx="304.1" cy="189.7" r="1.75"/><circle cx="313.3" cy="256.3" r="1.75"/><circle cx="236.2" cy="243.7" r="1.75"/><circle cx="177.5" cy="313.7" r="1.75"/><circle cx="382.5" cy="299.4" r="1.75"/><circle cx="381.8" cy="330.4" r="1.75"/><circle cx="359.8" cy="359.1" r="1.75"/><circle cx="344.7" cy="165.3" r="1.75"/><circle cx="275.3" cy="320.9" r="1.75"/><circle cx="223.6" cy="344.1" r="1.75"/><circle cx="393.8" cy="232.5" r="1.75"/><circle cx="354.0" cy="219.5" r="1.75"/><circle cx="284.9" cy="303.6" r="1.75"/><circle cx="446.4" cy="190.2" r="1.75"/><circle cx="290.2" cy="283.1" r="1.75"/><circle cx="358.4" cy="253.4" r="1.75"/><circle cx="237.6" cy="238.3" r="1.75"/><circle cx="208.8" cy="311.1" r="1.75"/><circle cx="279.8" cy="304.8" r="1.75"/><circle cx="498.7" cy="117.8" r="1.75"/><circle cx="416.4" cy="243.3" r="1.75"/><circle cx="266.5" cy="250.2" r="1.75"/><circle cx="170.0" cy="291.9" r="1.75"/><circle cx="320.8" cy="244.6" r="1.75"/><circle cx="234.6" cy="362.5" r="1.75"/><circle cx="216.5" cy="344.1" r="1.75"/><circle cx="236.0" cy="314.5" r="1.75"/><circle cx="162.7" cy="419.5" r="1.75"/><circle cx="334.7" cy="253.7" r="1.75"/><circle cx="493.2" cy="135.1" r="1.75"/><circle cx="495.1" cy="300.6" r="1.75"/><circle cx="208.2" cy="298.6" r="1.75"/><circle cx="191.4" cy="364.1" r="1.75"/><circle cx="265.9" cy="302.0" r="1.75"/><circle cx="449.4" cy="204.6" r="1.75"/><circle cx="192.1" cy="388.1" r="1.75"/><circle cx="330.3" cy="211.3" r="1.75"/><circle cx="188.3" cy="368.9" r="1.75"/><circle cx="255.5" cy="303.7" r="1.75"/><circle cx="197.2" cy="304.4" r="1.75"/><circle cx="259.8" cy="280.3" r="1.75"/><circle cx="288.2" cy="283.8" r="1.75"/><circle cx="417.5" cy="232.4" r="1.75"/><circle cx="545.1" cy="82.7" r="1.75"/><circle cx="318.5" cy="266.5" r="1.75"/><circle cx="410.5" cy="258.0" r="1.75"/><circle cx="246.2" cy="262.1" r="1.75"/><circle cx="215.3" cy="341.2" r="1.75"/><circle cx="200.1" cy="369.6" r="1.75"/><circle cx="193.4" cy="364.3" r="1.75"/><circle cx="436.7" cy="193.8" r="1.75"/><circle cx="376.5" cy="302.4" r="1.75"/><circle cx="422.9" cy="146.4" r="1.75"/><circle cx="431.1" cy="229.5" r="1.75"/><circle cx="302.6" cy="298.7" r="1.75"/><circle cx="364.1" cy="193.0" r="1.75"/><circle cx="329.5" cy="281.3" r="1.75"/><circle cx="339.2" cy="317.6" r="1.75"/><circle cx="431.9" cy="170.4" r="1.75"/><circle cx="219.6" cy="286.3" r="1.75"/><circle cx="227.0" cy="367.7" r="1.75"/><circle cx="294.2" cy="274.9" r="1.75"/><circle cx="217.2" cy="253.8" r="1.75"/><circle cx="206.9" cy="299.2" r="1.75"/><circle cx="292.1" cy="331.3" r="1.75"/><circle cx="337.1" cy="339.2" r="1.75"/><circle cx="258.7" cy="315.8" r="1.75"/><circle cx="272.7" cy="262.9" r="1.75"/><circle cx="252.5" cy="226.4" r="1.75"/><circle cx="324.9" cy="164.5" r="1.75"/><circle cx="272.1" cy="236.2" r="1.75"/><circle cx="514.8" cy="194.1" r="1.75"/><circle cx="243.1" cy="328.7" r="1.75"/><circle cx="350.0" cy="172.1" r="1.75"/><circle cx="271.4" cy="280.2" r="1.75"/><circle cx="546.9" cy="105.5" r="1.75"/><circle cx="173.0" cy="390.1" r="1.75"/><circle cx="344.0" cy="238.0" r="1.75"/><circle cx="345.2" cy="358.8" r="1.75"/><circle cx="159.6" cy="408.8" r="1.75"/><circle cx="335.9" cy="197.1" r="1.75"/><circle cx="414.8" cy="157.6" r="1.75"/><circle cx="302.2" cy="255.4" r="1.75"/><circle cx="289.9" cy="204.6" r="1.75"/><circle cx="367.5" cy="249.5" r="1.75"/><circle cx="474.2" cy="263.1" r="1.75"/><circle cx="514.9" cy="274.9" r="1.75"/><circle cx="341.0" cy="233.2" r="1.75"/><circle cx="434.6" cy="191.9" r="1.75"/><circle cx="271.0" cy="307.9" r="1.75"/><circle cx="302.9" cy="292.2" r="1.75"/><circle cx="395.0" cy="203.1" r="1.75"/><circle cx="227.8" cy="267.4" r="1.75"/><circle cx="261.7" cy="142.0" r="1.75"/><circle cx="271.8" cy="242.3" r="1.75"/><circle cx="325.2" cy="265.2" r="1.75"/><circle cx="302.6" cy="255.2" r="1.75"/><circle cx="343.8" cy="269.9" r="1.75"/><circle cx="218.7" cy="284.6" r="1.75"/><circle cx="420.3" cy="254.6" r="1.75"/><circle cx="264.5" cy="278.2" r="1.75"/><circle cx="482.9" cy="264.1" r="1.75"/><circle cx="417.8" cy="230.6" r="1.75"/><circle cx="247.8" cy="313.1" r="1.75"/><circle cx="356.0" cy="161.2" r="1.75"/><circle cx="302.1" cy="306.1" r="1.75"/><circle cx="274.4" cy="347.8" r="1.75"/><circle cx="271.6" cy="275.9" r="1.75"/><circle cx="293.1" cy="290.2" r="1.75"/><circle cx="293.3" cy="329.8" r="1.75"/><circle cx="277.4" cy="170.8" r="1.75"/><circle cx="477.0" cy="154.9" r="1.75"/><circle cx="415.9" cy="262.2" r="1.75"/><circle cx="202.3" cy="300.1" r="1.75"/><circle cx="166.9" cy="412.4" r="1.75"/><circle cx="278.5" cy="253.9" r="1.75"/><circle cx="391.7" cy="180.3" r="1.75"/><circle cx="204.6" cy="217.1" r="1.75"/><circle cx="192.6" cy="316.6" r="1.75"/><circle cx="396.6" cy="179.1" r="1.75"/><circle cx="478.5" cy="293.8" r="1.75"/><circle cx="237.4" cy="416.3" r="1.75"/><circle cx="442.0" cy="205.4" r="1.75"/><circle cx="156.5" cy="396.8" r="1.75"/><circle cx="364.6" cy="254.7" r="1.75"/><circle cx="226.6" cy="359.2" r="1.75"/><circle cx="328.8" cy="261.2" r="1.75"/><circle cx="347.3" cy="305.6" r="1.75"/><circle cx="457.6" cy="176.8" r="1.75"/><circle cx="218.2" cy="346.4" r="1.75"/><circle cx="437.4" cy="177.4" r="1.75"/><circle cx="313.0" cy="225.4" r="1.75"/><circle cx="306.2" cy="242.9" r="1.75"/><circle cx="245.8" cy="396.5" r="1.75"/><circle cx="175.2" cy="337.8" r="1.75"/><circle cx="269.5" cy="298.5" r="1.75"/><circle cx="358.1" cy="328.7" r="1.75"/><circle cx="406.5" cy="340.3" r="1.75"/><circle cx="242.4" cy="235.5" r="1.75"/><circle cx="437.0" cy="222.3" r="1.75"/><circle cx="307.5" cy="266.2" r="1.75"/><circle cx="241.2" cy="253.1" r="1.75"/><circle cx="447.5" cy="312.5" r="1.75"/><circle cx="168.2" cy="375.8" r="1.75"/><circle cx="345.4" cy="266.2" r="1.75"/><circle cx="275.0" cy="199.1" r="1.75"/><circle cx="324.4" cy="87.1" r="1.75"/><circle cx="355.7" cy="286.3" r="1.75"/><circle cx="418.2" cy="234.6" r="1.75"/><circle cx="220.1" cy="270.2" r="1.75"/><circle cx="241.9" cy="316.0" r="1.75"/><circle cx="579.8" cy="142.9" r="1.75"/><circle cx="313.0" cy="241.8" r="1.75"/><circle cx="268.7" cy="267.6" r="1.75"/><circle cx="221.1" cy="309.4" r="1.75"/><circle cx="464.4" cy="205.8" r="1.75"/><circle cx="304.3" cy="223.1" r="1.75"/><circle cx="291.5" cy="102.4" r="1.75"/><circle cx="372.2" cy="287.2" r="1.75"/><circle cx="327.4" cy="165.6" r="1.75"/><circle cx="477.8" cy="233.5" r="1.75"/><circle cx="278.3" cy="278.2" r="1.75"/><circle cx="195.4" cy="311.0" r="1.75"/><circle cx="254.9" cy="196.1" r="1.75"/><circle cx="439.2" cy="253.5" r="1.75"/><circle cx="287.8" cy="348.8" r="1.75"/><circle cx="263.6" cy="243.2" r="1.75"/><circle cx="334.8" cy="240.6" r="1.75"/><circle cx="381.2" cy="199.4" r="1.75"/><circle cx="188.7" cy="344.0" r="1.75"/><circle cx="308.0" cy="232.3" r="1.75"/><circle cx="360.0" cy="214.3" r="1.75"/><circle cx="380.6" cy="155.4" r="1.75"/><circle cx="525.7" cy="237.1" r="1.75"/><circle cx="203.3" cy="363.1" r="1.75"/><circle cx="231.9" cy="325.9" r="1.75"/><circle cx="241.3" cy="319.5" r="1.75"/><circle cx="244.3" cy="268.7" r="1.75"/><circle cx="484.1" cy="108.9" r="1.75"/><circle cx="237.7" cy="320.8" r="1.75"/><circle cx="244.3" cy="311.9" r="1.75"/><circle cx="242.2" cy="222.5" r="1.75"/><circle cx="545.0" cy="214.0" r="1.75"/><circle cx="258.5" cy="257.9" r="1.75"/><circle cx="457.5" cy="290.4" r="1.75"/><circle cx="446.2" cy="172.3" r="1.75"/><circle cx="224.0" cy="318.4" r="1.75"/><circle cx="307.2" cy="230.8" r="1.75"/><circle cx="218.9" cy="365.5" r="1.75"/><circle cx="292.1" cy="230.3" r="1.75"/><circle cx="413.0" cy="174.0" r="1.75"/><circle cx="296.5" cy="303.4" r="1.75"/><circle cx="328.3" cy="225.3" r="1.75"/><circle cx="229.9" cy="338.4" r="1.75"/><circle cx="356.0" cy="283.5" r="1.75"/><circle cx="412.0" cy="255.3" r="1.75"/><circle cx="230.1" cy="242.9" r="1.75"/><circle cx="518.4" cy="218.3" r="1.75"/><circle cx="286.5" cy="287.3" r="1.75"/><circle cx="387.2" cy="383.6" r="1.75"/><circle cx="157.2" cy="401.7" r="1.75"/><circle cx="288.2" cy="231.2" r="1.75"/><circle cx="225.7" cy="374.6" r="1.75"/><circle cx="333.2" cy="239.4" r="1.75"/><circle cx="245.8" cy="296.0" r="1.75"/><circle cx="315.9" cy="235.6" r="1.75"/><circle cx="239.1" cy="248.0" r="1.75"/><circle cx="326.3" cy="328.7" r="1.75"/><circle cx="449.8" cy="304.6" r="1.75"/><circle cx="266.5" cy="196.4" r="1.75"/><circle cx="233.8" cy="274.5" r="1.75"/><circle cx="251.7" cy="106.3" r="1.75"/><circle cx="215.3" cy="380.3" r="1.75"/><circle cx="429.0" cy="279.3" r="1.75"/><circle cx="323.5" cy="295.8" r="1.75"/><circle cx="358.9" cy="225.0" r="1.75"/><circle cx="389.7" cy="248.7" r="1.75"/><circle cx="205.3" cy="349.9" r="1.75"/><circle cx="376.9" cy="256.4" r="1.75"/><circle cx="326.5" cy="283.4" r="1.75"/><circle cx="398.8" cy="232.2" r="1.75"/><circle cx="162.1" cy="454.1" r="1.75"/><circle cx="340.8" cy="320.8" r="1.75"/><circle cx="189.5" cy="351.6" r="1.75"/><circle cx="341.6" cy="288.4" r="1.75"/><circle cx="472.2" cy="241.1" r="1.75"/><circle cx="212.7" cy="343.6" r="1.75"/><circle cx="478.2" cy="197.0" r="1.75"/><circle cx="361.7" cy="212.1" r="1.75"/><circle cx="258.1" cy="346.6" r="1.75"/><circle cx="537.0" cy="184.8" r="1.75"/><circle cx="251.9" cy="306.6" r="1.75"/><circle cx="246.5" cy="316.9" r="1.75"/><circle cx="282.0" cy="288.4" r="1.75"/><circle cx="289.7" cy="192.6" r="1.75"/><circle cx="350.7" cy="241.9" r="1.75"/><circle cx="255.7" cy="298.1" r="1.75"/><circle cx="386.9" cy="291.3" r="1.75"/><circle cx="348.0" cy="122.8" r="1.75"/><circle cx="419.3" cy="195.8" r="1.75"/><circle cx="218.5" cy="404.5" r="1.75"/><circle cx="226.6" cy="312.6" r="1.75"/><circle cx="507.5" cy="190.2" r="1.75"/><circle cx="410.8" cy="297.1" r="1.75"/><circle cx="268.5" cy="247.8" r="1.75"/><circle cx="373.8" cy="227.6" r="1.75"/><circle cx="279.7" cy="296.3" r="1.75"/><circle cx="270.7" cy="295.2" r="1.75"/><circle cx="501.7" cy="268.6" r="1.75"/><circle cx="412.1" cy="272.1" r="1.75"/><circle cx="330.7" cy="249.2" r="1.75"/><circle cx="154.1" cy="411.1" r="1.75"/><circle cx="303.8" cy="395.7" r="1.75"/><circle cx="289.2" cy="281.3" r="1.75"/><circle cx="194.5" cy="328.7" r="1.75"/><circle cx="285.5" cy="350.5" r="1.75"/><circle cx="510.1" cy="222.2" r="1.75"/><circle cx="200.1" cy="287.8" r="1.75"/><circle cx="269.6" cy="365.3" r="1.75"/><circle cx="377.8" cy="198.7" r="1.75"/><circle cx="402.9" cy="322.7" r="1.75"/><circle cx="336.6" cy="222.2" r="1.75"/><circle cx="483.4" cy="149.3" r="1.75"/><circle cx="285.1" cy="276.9" r="1.75"/><circle cx="363.3" cy="173.8" r="1.75"/><circle cx="272.6" cy="248.1" r="1.75"/><circle cx="375.1" cy="246.9" r="1.75"/><circle cx="344.1" cy="285.2" r="1.75"/><circle cx="252.0" cy="239.5" r="1.75"/><circle cx="371.6" cy="237.3" r="1.75"/><circle cx="400.8" cy="69.0" r="1.75"/><circle cx="393.3" cy="262.4" r="1.75"/><circle cx="183.2" cy="432.3" r="1.75"/><circle cx="536.7" cy="165.7" r="1.75"/><circle cx="346.1" cy="204.3" r="1.75"/><circle cx="226.8" cy="321.4" r="1.75"/><circle cx="346.2" cy="171.8" r="1.75"/><circle cx="591.2" cy="68.7" r="1.75"/><circle cx="301.9" cy="239.7" r="1.75"/><circle cx="186.6" cy="302.0" r="1.75"/><circle cx="201.6" cy="242.3" r="1.75"/><circle cx="316.8" cy="233.1" r="1.75"/><circle cx="397.5" cy="292.1" r="1.75"/><circle cx="238.5" cy="229.3" r="1.75"/><circle cx="274.0" cy="342.6" r="1.75"/><circle cx="348.6" cy="184.3" r="1.75"/><circle cx="428.1" cy="293.2" r="1.75"/><circle cx="250.8" cy="225.8" r="1.75"/><circle cx="182.2" cy="364.9" r="1.75"/><circle cx="352.9" cy="330.2" r="1.75"/><circle cx="215.6" cy="335.3" r="1.75"/><circle cx="273.7" cy="255.3" r="1.75"/><circle cx="179.2" cy="402.1" r="1.75"/><circle cx="172.5" cy="337.5" r="1.75"/><circle cx="173.0" cy="329.4" r="1.75"/><circle cx="204.1" cy="348.6" r="1.75"/><circle cx="228.2" cy="335.5" r="1.75"/><circle cx="350.1" cy="341.4" r="1.75"/><circle cx="196.8" cy="359.2" r="1.75"/><circle cx="252.7" cy="262.0" r="1.75"/><circle cx="338.7" cy="281.1" r="1.75"/><circle cx="415.7" cy="286.3" r="1.75"/><circle cx="472.8" cy="275.0" r="1.75"/><circle cx="296.2" cy="263.7" r="1.75"/><circle cx="262.3" cy="334.5" r="1.75"/><circle cx="295.3" cy="301.7" r="1.75"/><circle cx="524.1" cy="290.1" r="1.75"/><circle cx="203.0" cy="399.9" r="1.75"/><circle cx="438.3" cy="216.3" r="1.75"/><circle cx="188.0" cy="310.1" r="1.75"/><circle cx="508.1" cy="165.2" r="1.75"/><circle cx="336.3" cy="319.9" r="1.75"/><circle cx="331.7" cy="217.6" r="1.75"/><circle cx="350.3" cy="264.0" r="1.75"/><circle cx="379.4" cy="220.9" r="1.75"/><circle cx="297.2" cy="310.5" r="1.75"/><circle cx="466.5" cy="217.1" r="1.75"/><circle cx="423.2" cy="268.1" r="1.75"/><circle cx="247.9" cy="319.7" r="1.75"/><circle cx="261.1" cy="300.5" r="1.75"/><circle cx="213.1" cy="314.2" r="1.75"/><circle cx="447.3" cy="166.8" r="1.75"/><circle cx="286.6" cy="211.7" r="1.75"/><circle cx="168.8" cy="383.7" r="1.75"/><circle cx="338.1" cy="239.7" r="1.75"/><circle cx="309.6" cy="251.0" r="1.75"/><circle cx="422.4" cy="296.2" r="1.75"/><circle cx="346.8" cy="248.5" r="1.75"/><circle cx="300.6" cy="213.3" r="1.75"/><circle cx="309.0" cy="180.1" r="1.75"/><circle cx="378.8" cy="270.6" r="1.75"/><circle cx="369.1" cy="265.7" r="1.75"/><circle cx="246.0" cy="316.0" r="1.75"/><circle cx="303.0" cy="244.8" r="1.75"/><circle cx="223.8" cy="295.1" r="1.75"/><circle cx="184.0" cy="389.8" r="1.75"/><circle cx="287.3" cy="365.5" r="1.75"/><circle cx="358.2" cy="303.3" r="1.75"/><circle cx="433.3" cy="216.9" r="1.75"/><circle cx="259.2" cy="379.3" r="1.75"/><circle cx="230.4" cy="333.3" r="1.75"/><circle cx="278.4" cy="291.2" r="1.75"/><circle cx="312.4" cy="247.9" r="1.75"/><circle cx="251.2" cy="368.9" r="1.75"/><circle cx="245.5" cy="333.5" r="1.75"/><circle cx="251.2" cy="314.8" r="1.75"/><circle cx="288.0" cy="284.3" r="1.75"/><circle cx="356.3" cy="269.0" r="1.75"/><circle cx="298.2" cy="167.6" r="1.75"/><circle cx="300.1" cy="399.0" r="1.75"/><circle cx="388.5" cy="199.5" r="1.75"/><circle cx="528.6" cy="209.5" r="1.75"/><circle cx="336.6" cy="251.1" r="1.75"/><circle cx="280.1" cy="263.8" r="1.75"/><circle cx="377.1" cy="263.9" r="1.75"/><circle cx="289.8" cy="226.4" r="1.75"/><circle cx="542.1" cy="151.1" r="1.75"/><circle cx="222.2" cy="251.0" r="1.75"/><circle cx="295.0" cy="193.3" r="1.75"/><circle cx="511.6" cy="119.6" r="1.75"/><circle cx="460.8" cy="204.3" r="1.75"/><circle cx="418.6" cy="281.0" r="1.75"/><circle cx="313.3" cy="304.7" r="1.75"/><circle cx="361.6" cy="207.9" r="1.75"/><circle cx="207.1" cy="322.5" r="1.75"/><circle cx="217.6" cy="312.3" r="1.75"/><circle cx="199.7" cy="347.8" r="1.75"/><circle cx="192.0" cy="375.0" r="1.75"/><circle cx="225.2" cy="378.2" r="1.75"/><circle cx="206.7" cy="310.2" r="1.75"/><circle cx="370.1" cy="148.8" r="1.75"/><circle cx="386.3" cy="335.3" r="1.75"/><circle cx="300.1" cy="123.2" r="1.75"/><circle cx="299.1" cy="344.2" r="1.75"/><circle cx="558.5" cy="189.7" r="1.75"/><circle cx="232.7" cy="196.1" r="1.75"/><circle cx="188.6" cy="370.3" r="1.75"/><circle cx="426.4" cy="207.6" r="1.75"/><circle cx="340.3" cy="304.9" r="1.75"/><circle cx="373.7" cy="192.2" r="1.75"/><circle cx="273.2" cy="382.9" r="1.75"/><circle cx="376.8" cy="170.2" r="1.75"/><circle cx="297.0" cy="227.5" r="1.75"/><circle cx="239.8" cy="352.6" r="1.75"/><circle cx="274.3" cy="225.1" r="1.75"/><circle cx="273.6" cy="302.3" r="1.75"/><circle cx="253.5" cy="276.3" r="1.75"/><circle cx="252.3" cy="292.4" r="1.75"/><circle cx="270.6" cy="367.3" r="1.75"/><circle cx="449.4" cy="161.5" r="1.75"/><circle cx="297.5" cy="271.8" r="1.75"/><circle cx="172.2" cy="378.4" r="1.75"/><circle cx="373.8" cy="301.6" r="1.75"/><circle cx="380.6" cy="301.7" r="1.75"/><circle cx="226.1" cy="278.3" r="1.75"/><circle cx="281.9" cy="172.6" r="1.75"/><circle cx="261.3" cy="336.0" r="1.75"/><circle cx="308.7" cy="326.1" r="1.75"/><circle cx="210.3" cy="381.5" r="1.75"/><circle cx="522.1" cy="169.0" r="1.75"/><circle cx="239.2" cy="280.3" r="1.75"/><circle cx="428.8" cy="279.2" r="1.75"/><circle cx="447.6" cy="137.0" r="1.75"/><circle cx="263.4" cy="267.7" r="1.75"/><circle cx="265.1" cy="216.7" r="1.75"/><circle cx="442.3" cy="254.4" r="1.75"/><circle cx="357.0" cy="97.0" r="1.75"/><circle cx="471.0" cy="233.9" r="1.75"/><circle cx="439.2" cy="186.9" r="1.75"/><circle cx="206.4" cy="360.5" r="1.75"/><circle cx="356.6" cy="202.5" r="1.75"/><circle cx="498.8" cy="132.6" r="1.75"/><circle cx="220.7" cy="256.3" r="1.75"/><circle cx="461.2" cy="176.1" r="1.75"/><circle cx="264.6" cy="300.5" r="1.75"/><circle cx="318.6" cy="331.4" r="1.75"/><circle cx="241.1" cy="292.6" r="1.75"/><circle cx="411.4" cy="208.5" r="1.75"/><circle cx="283.5" cy="287.2" r="1.75"/><circle cx="281.1" cy="335.1" r="1.75"/><circle cx="227.9" cy="250.9" r="1.75"/><circle cx="292.1" cy="354.3" r="1.75"/><circle cx="353.7" cy="202.9" r="1.75"/><circle cx="273.8" cy="281.1" r="1.75"/><circle cx="304.9" cy="275.4" r="1.75"/><circle cx="254.3" cy="191.2" r="1.75"/><circle cx="380.5" cy="308.7" r="1.75"/><circle cx="444.6" cy="275.4" r="1.75"/><circle cx="443.8" cy="271.5" r="1.75"/><circle cx="214.2" cy="328.4" r="1.75"/><circle cx="193.5" cy="370.0" r="1.75"/><circle cx="570.9" cy="207.8" r="1.75"/><circle cx="472.8" cy="244.7" r="1.75"/><circle cx="298.7" cy="308.0" r="1.75"/><circle cx="177.0" cy="351.0" r="1.75"/><circle cx="422.0" cy="201.9" r="1.75"/><circle cx="251.3" cy="209.7" r="1.75"/><circle cx="400.7" cy="219.5" r="1.75"/><circle cx="289.6" cy="314.1" r="1.75"/><circle cx="190.5" cy="347.7" r="1.75"/><circle cx="430.1" cy="284.5" r="1.75"/><circle cx="361.4" cy="305.8" r="1.75"/><circle cx="205.0" cy="371.0" r="1.75"/><circle cx="306.9" cy="252.2" r="1.75"/><circle cx="372.2" cy="220.7" r="1.75"/><circle cx="285.9" cy="306.0" r="1.75"/><circle cx="494.4" cy="220.9" r="1.75"/><circle cx="280.2" cy="284.2" r="1.75"/><circle cx="355.8" cy="238.7" r="1.75"/><circle cx="327.4" cy="278.4" r="1.75"/><circle cx="423.1" cy="205.9" r="1.75"/><circle cx="249.3" cy="230.4" r="1.75"/><circle cx="232.3" cy="337.0" r="1.75"/><circle cx="296.7" cy="309.6" r="1.75"/><circle cx="257.5" cy="278.9" r="1.75"/><circle cx="349.0" cy="262.0" r="1.75"/><circle cx="504.6" cy="248.2" r="1.75"/><circle cx="201.8" cy="390.4" r="1.75"/><circle cx="239.1" cy="245.8" r="1.75"/><circle cx="344.4" cy="206.3" r="1.75"/><circle cx="339.5" cy="84.4" r="1.75"/><circle cx="306.9" cy="247.1" r="1.75"/><circle cx="269.1" cy="99.4" r="1.75"/><circle cx="590.3" cy="196.6" r="1.75"/><circle cx="165.9" cy="381.0" r="1.75"/><circle cx="353.4" cy="226.1" r="1.75"/><circle cx="234.1" cy="319.8" r="1.75"/><circle cx="352.0" cy="315.4" r="1.75"/><circle cx="268.7" cy="320.5" r="1.75"/><circle cx="266.4" cy="301.0" r="1.75"/><circle cx="374.1" cy="258.0" r="1.75"/><circle cx="202.3" cy="323.9" r="1.75"/><circle cx="546.4" cy="200.4" r="1.75"/><circle cx="242.1" cy="244.1" r="1.75"/><circle cx="346.4" cy="232.0" r="1.75"/><circle cx="547.5" cy="204.7" r="1.75"/><circle cx="336.1" cy="274.6" r="1.75"/><circle cx="379.8" cy="247.7" r="1.75"/><circle cx="252.7" cy="330.3" r="1.75"/><circle cx="310.1" cy="275.6" r="1.75"/><circle cx="182.2" cy="402.4" r="1.75"/><circle cx="254.5" cy="153.0" r="1.75"/><circle cx="376.9" cy="176.1" r="1.75"/><circle cx="258.5" cy="352.4" r="1.75"/><circle cx="407.7" cy="249.7" r="1.75"/><circle cx="303.2" cy="195.3" r="1.75"/><circle cx="228.4" cy="288.9" r="1.75"/><circle cx="264.8" cy="316.3" r="1.75"/><circle cx="488.1" cy="140.3" r="1.75"/><circle cx="186.2" cy="298.0" r="1.75"/><circle cx="186.8" cy="355.0" r="1.75"/><circle cx="364.8" cy="101.5" r="1.75"/><circle cx="245.5" cy="323.6" r="1.75"/><circle cx="574.7" cy="214.4" r="1.75"/><circle cx="482.0" cy="164.3" r="1.75"/><circle cx="241.7" cy="376.0" r="1.75"/><circle cx="318.8" cy="248.9" r="1.75"/><circle cx="206.4" cy="396.0" r="1.75"/><circle cx="161.2" cy="353.5" r="1.75"/><circle cx="507.1" cy="197.4" r="1.75"/><circle cx="224.5" cy="261.2" r="1.75"/><circle cx="216.7" cy="191.7" r="1.75"/><circle cx="318.0" cy="271.9" r="1.75"/><circle cx="559.9" cy="187.6" r="1.75"/><circle cx="273.3" cy="404.4" r="1.75"/><circle cx="386.1" cy="235.5" r="1.75"/><circle cx="332.0" cy="252.4" r="1.75"/><circle cx="308.9" cy="167.8" r="1.75"/><circle cx="547.0" cy="219.6" r="1.75"/><circle cx="160.8" cy="425.4" r="1.75"/><circle cx="205.2" cy="365.7" r="1.75"/><circle cx="425.1" cy="318.1" r="1.75"/><circle cx="271.2" cy="382.0" r="1.75"/><circle cx="460.6" cy="258.6" r="1.75"/><circle cx="187.3" cy="351.1" r="1.75"/><circle cx="219.6" cy="345.7" r="1.75"/><circle cx="229.2" cy="336.8" r="1.75"/><circle cx="266.1" cy="350.3" r="1.75"/><circle cx="216.7" cy="357.6" r="1.75"/><circle cx="279.2" cy="349.5" r="1.75"/><circle cx="380.9" cy="110.2" r="1.75"/><circle cx="307.4" cy="358.2" r="1.75"/><circle cx="239.1" cy="300.7" r="1.75"/><circle cx="369.9" cy="286.8" r="1.75"/><circle cx="270.1" cy="298.7" r="1.75"/><circle cx="350.7" cy="364.6" r="1.75"/><circle cx="313.7" cy="139.4" r="1.75"/><circle cx="157.7" cy="334.0" r="1.75"/><circle cx="308.8" cy="237.4" r="1.75"/><circle cx="166.5" cy="348.5" r="1.75"/><circle cx="334.5" cy="313.2" r="1.75"/><circle cx="203.2" cy="350.5" r="1.75"/><circle cx="247.3" cy="280.3" r="1.75"/><circle cx="283.5" cy="328.1" r="1.75"/><circle cx="328.7" cy="296.9" r="1.75"/><circle cx="371.0" cy="161.5" r="1.75"/><circle cx="407.3" cy="201.6" r="1.75"/><circle cx="295.0" cy="336.8" r="1.75"/><circle cx="230.5" cy="306.1" r="1.75"/><circle cx="172.8" cy="401.5" r="1.75"/><circle cx="392.3" cy="248.3" r="1.75"/><circle cx="471.7" cy="289.2" r="1.75"/><circle cx="387.3" cy="216.9" r="1.75"/><circle cx="470.7" cy="138.0" r="1.75"/><circle cx="267.2" cy="326.7" r="1.75"/><circle cx="219.2" cy="360.6" r="1.75"/><circle cx="219.1" cy="288.3" r="1.75"/><circle cx="335.9" cy="195.9" r="1.75"/><circle cx="336.4" cy="291.3" r="1.75"/><circle cx="229.8" cy="353.0" r="1.75"/><circle cx="499.6" cy="258.1" r="1.75"/><circle cx="259.4" cy="334.1" r="1.75"/><circle cx="307.9" cy="217.6" r="1.75"/><circle cx="429.0" cy="247.3" r="1.75"/><circle cx="450.2" cy="276.0" r="1.75"/><circle cx="175.7" cy="387.3" r="1.75"/><circle cx="185.7" cy="360.0" r="1.75"/><circle cx="293.2" cy="300.9" r="1.75"/><circle cx="381.5" cy="139.4" r="1.75"/><circle cx="320.6" cy="255.7" r="1.75"/><circle cx="537.5" cy="166.7" r="1.75"/><circle cx="237.5" cy="206.7" r="1.75"/><circle cx="233.4" cy="252.9" r="1.75"/><circle cx="297.9" cy="139.3" r="1.75"/><circle cx="364.9" cy="219.9" r="1.75"/><circle cx="330.3" cy="194.6" r="1.75"/><circle cx="360.6" cy="134.2" r="1.75"/><circle cx="301.9" cy="347.5" r="1.75"/><circle cx="190.2" cy="302.2" r="1.75"/><circle cx="171.0" cy="381.4" r="1.75"/><circle cx="250.9" cy="366.9" r="1.75"/><circle cx="294.7" cy="252.7" r="1.75"/><circle cx="274.6" cy="354.9" r="1.75"/><circle cx="269.2" cy="213.1" r="1.75"/><circle cx="256.1" cy="312.3" r="1.75"/><circle cx="227.5" cy="226.9" r="1.75"/><circle cx="209.6" cy="328.2" r="1.75"/><circle cx="388.5" cy="203.5" r="1.75"/><circle cx="271.5" cy="333.6" r="1.75"/><circle cx="221.1" cy="356.0" r="1.75"/><circle cx="417.2" cy="133.8" r="1.75"/><circle cx="332.4" cy="257.3" r="1.75"/><circle cx="250.0" cy="211.8" r="1.75"/><circle cx="209.3" cy="338.2" r="1.75"/><circle cx="324.4" cy="341.1" r="1.75"/></g>
<g stroke="#000" stroke-width="2.4"><line x1="173.0" y1="373" x2="173.0" y2="418"/><line x1="186.2" y1="324" x2="186.2" y2="432.6"/><line x1="199.3" y1="300" x2="199.3" y2="391"/><line x1="212.5" y1="277" x2="212.5" y2="390"/><line x1="225.6" y1="281.4" x2="225.6" y2="385.6"/><line x1="238.8" y1="252.4" x2="238.8" y2="385.4"/><line x1="251.9" y1="250.6" x2="251.9" y2="371"/><line x1="265.1" y1="216" x2="265.1" y2="359.6"/><line x1="278.2" y1="220" x2="278.2" y2="344"/><line x1="291.4" y1="217" x2="291.4" y2="345"/><line x1="304.5" y1="198" x2="304.5" y2="320"/><line x1="317.7" y1="183" x2="317.7" y2="313"/><line x1="330.8" y1="206" x2="330.8" y2="308"/><line x1="344.0" y1="199" x2="344.0" y2="294"/><line x1="357.1" y1="212" x2="357.1" y2="309"/><line x1="370.3" y1="191" x2="370.3" y2="308"/><line x1="383.4" y1="189" x2="383.4" y2="305.6"/><line x1="396.6" y1="143" x2="396.6" y2="286"/><line x1="409.7" y1="166" x2="409.7" y2="317"/><line x1="422.9" y1="121" x2="422.9" y2="275"/><line x1="436.0" y1="150" x2="436.0" y2="305"/><line x1="449.2" y1="120" x2="449.2" y2="303"/><line x1="462.3" y1="133.3" x2="462.3" y2="307.6"/><line x1="475.5" y1="121" x2="475.5" y2="246"/><line x1="488.6" y1="127" x2="488.6" y2="306"/><line x1="501.8" y1="115" x2="501.8" y2="247"/><line x1="514.9" y1="149" x2="514.9" y2="258.5"/><line x1="528.1" y1="104.4" x2="528.1" y2="246"/><line x1="541.2" y1="111.6" x2="541.2" y2="238.5"/><line x1="554.4" y1="135" x2="554.4" y2="261"/></g>
<g stroke="#000" stroke-width="2.9" stroke-linejoin="miter"><path d="M173.0,389.6L178.9,395.4L173.0,401.2L167.2,395.4Z" fill="#12b2ee"/><path d="M186.2,372.5L192.0,378.3L186.2,384.1L180.3,378.3Z" fill="#18b8f0"/><path d="M199.3,339.8L205.2,345.6L199.3,351.4L193.5,345.6Z" fill="#22d0f6"/><path d="M212.5,326.8L218.3,332.6L212.5,338.4L206.6,332.6Z" fill="#20e8c0"/><path d="M225.6,326.8L231.5,332.6L225.6,338.4L219.8,332.6Z" fill="#20e090"/><path d="M238.8,311.6L245.2,318.0L238.8,324.4L232.3,318.0Z" fill="#14e060"/><path d="M251.9,303.0L259.0,310.0L251.9,317.0L244.9,310.0Z" fill="#18e018"/><path d="M265.1,280.0L272.1,287.0L265.1,294.0L258.0,287.0Z" fill="#70e010"/><path d="M278.2,274.6L284.7,281.0L278.2,287.4L271.8,281.0Z" fill="#a0e810"/><path d="M291.4,274.0L297.8,280.4L291.4,286.8L284.9,280.4Z" fill="#c8f000"/><path d="M304.5,251.6L311.6,258.6L304.5,265.6L297.5,258.6Z" fill="#d8f000"/><path d="M317.7,241.2L324.1,247.6L317.7,254.0L311.2,247.6Z" fill="#ffd800"/><path d="M330.8,250.6L338.3,258.0L330.8,265.4L323.4,258.0Z" fill="#ff5000"/><path d="M344.0,238.8L352.2,247.0L344.0,255.2L335.7,247.0Z" fill="#ff0000"/><path d="M357.1,253.4L365.4,261.6L357.1,269.8L348.9,261.6Z" fill="#ff0000"/><path d="M370.3,242.8L376.9,249.4L370.3,256.0L363.6,249.4Z" fill="#ff0000"/><path d="M383.4,239.8L390.7,247.0L383.4,254.2L376.2,247.0Z" fill="#ff0000"/><path d="M396.6,207.2L403.8,214.4L396.6,221.6L389.3,214.4Z" fill="#ff8000"/><path d="M409.7,231.4L420.0,241.6L409.7,251.8L399.5,241.6Z" fill="#ff0000"/><path d="M422.9,189.8L433.1,200.0L422.9,210.2L412.6,200.0Z" fill="#ff5000"/><path d="M436.0,219.7L443.7,227.3L436.0,234.9L428.4,227.3Z" fill="#ff9000"/><path d="M449.2,200.6L460.5,211.9L449.2,223.2L437.8,211.9Z" fill="#ff0000"/><path d="M462.3,212.0L471.0,220.6L462.3,229.2L453.7,220.6Z" fill="#ff3000"/><path d="M475.5,174.6L483.1,182.2L475.5,189.8L467.8,182.2Z" fill="#ff5500"/><path d="M488.6,205.9L499.3,216.5L488.6,227.1L478.0,216.5Z" fill="#ff0000"/><path d="M501.8,172.6L510.2,181.0L501.8,189.4L493.3,181.0Z" fill="#ff0000"/><path d="M514.9,198.7L520.8,204.5L514.9,210.3L509.1,204.5Z" fill="#ff5000"/><path d="M528.1,166.3L536.5,174.7L528.1,183.1L519.6,174.7Z" fill="#ff0000"/><path d="M541.2,168.6L547.4,174.7L541.2,180.8L535.1,174.7Z" fill="#ffee00"/><path d="M554.4,189.0L564.2,198.8L554.4,208.6L544.5,198.8Z" fill="#cc0000"/></g>
<g stroke="#000" stroke-width="2"><line x1="702.6" y1="70" x2="702.6" y2="191.5"/><line x1="544.5" y1="131" x2="731" y2="131"/></g>
<g stroke="#7a0000" stroke-width="3.2" stroke-linecap="round"><line x1="695.5" y1="124.2" x2="709.7" y2="138.4"/><line x1="709.7" y1="124.2" x2="695.5" y2="138.4"/></g>
<rect x="133" y="100" width="375" height="36" fill="#fff" fill-opacity="0.6"/>
<text x="136.5" y="126.3" font-size="24.8">Theoretical maximum value ≈ 1.0</text>
<g stroke="#000" stroke-width="2.3" fill="none">
<rect x="127.0" y="2.2" width="658.0" height="528.8"/>
<line x1="108.0" y1="531.0" x2="127.0" y2="531.0"/><line x1="117.0" y1="491.8" x2="127.0" y2="491.8"/><line x1="108.0" y1="452.6" x2="127.0" y2="452.6"/><line x1="117.0" y1="413.4" x2="127.0" y2="413.4"/><line x1="108.0" y1="374.2" x2="127.0" y2="374.2"/><line x1="117.0" y1="335.0" x2="127.0" y2="335.0"/><line x1="108.0" y1="295.8" x2="127.0" y2="295.8"/><line x1="117.0" y1="256.6" x2="127.0" y2="256.6"/><line x1="108.0" y1="217.4" x2="127.0" y2="217.4"/><line x1="117.0" y1="178.2" x2="127.0" y2="178.2"/><line x1="108.0" y1="139.0" x2="127.0" y2="139.0"/><line x1="117.0" y1="99.8" x2="127.0" y2="99.8"/><line x1="108.0" y1="60.6" x2="127.0" y2="60.6"/><line x1="117.0" y1="21.4" x2="127.0" y2="21.4"/><line x1="127.0" y1="531.0" x2="127.0" y2="512.5"/><line x1="159.9" y1="531.0" x2="159.9" y2="521.0"/><line x1="192.8" y1="531.0" x2="192.8" y2="512.5"/><line x1="225.6" y1="531.0" x2="225.6" y2="521.0"/><line x1="258.5" y1="531.0" x2="258.5" y2="512.5"/><line x1="291.4" y1="531.0" x2="291.4" y2="521.0"/><line x1="324.2" y1="531.0" x2="324.2" y2="512.5"/><line x1="357.1" y1="531.0" x2="357.1" y2="521.0"/><line x1="390.0" y1="531.0" x2="390.0" y2="512.5"/><line x1="422.9" y1="531.0" x2="422.9" y2="521.0"/><line x1="455.8" y1="531.0" x2="455.8" y2="512.5"/><line x1="488.6" y1="531.0" x2="488.6" y2="521.0"/><line x1="521.5" y1="531.0" x2="521.5" y2="512.5"/><line x1="554.4" y1="531.0" x2="554.4" y2="521.0"/><line x1="587.2" y1="531.0" x2="587.2" y2="512.5"/><line x1="620.1" y1="531.0" x2="620.1" y2="521.0"/><line x1="653.0" y1="531.0" x2="653.0" y2="512.5"/><line x1="685.9" y1="531.0" x2="685.9" y2="521.0"/><line x1="718.8" y1="531.0" x2="718.8" y2="512.5"/><line x1="751.6" y1="531.0" x2="751.6" y2="521.0"/><line x1="784.5" y1="531.0" x2="784.5" y2="512.5"/><line x1="779.5" y1="139.0" x2="785" y2="139.0"/>
</g>
<g font-size="28"><text x="94" y="541.0" text-anchor="end">0.0</text><text x="94" y="462.6" text-anchor="end">0.2</text><text x="94" y="384.2" text-anchor="end">0.4</text><text x="94" y="305.8" text-anchor="end">0.6</text><text x="94" y="227.4" text-anchor="end">0.8</text><text x="94" y="149.0" text-anchor="end">1.0</text><text x="94" y="70.6" text-anchor="end">1.2</text><text x="127.0" y="568.7" text-anchor="middle">0.0</text><text x="192.8" y="568.7" text-anchor="middle">0.1</text><text x="258.5" y="568.7" text-anchor="middle">0.2</text><text x="324.2" y="568.7" text-anchor="middle">0.3</text><text x="390.0" y="568.7" text-anchor="middle">0.4</text><text x="455.8" y="568.7" text-anchor="middle">0.5</text><text x="521.5" y="568.7" text-anchor="middle">0.6</text><text x="587.2" y="568.7" text-anchor="middle">0.7</text><text x="653.0" y="568.7" text-anchor="middle">0.8</text><text x="718.8" y="568.7" text-anchor="middle">0.9</text><text x="784.5" y="568.7" text-anchor="middle">1.0</text></g>
<text x="233" y="617.7"><tspan font-size="32.30">A</tspan><tspan font-size="22.61" dy="9.37">1</tspan><tspan font-size="32.30" dy="-9.37">D</tspan><tspan font-size="22.61" dy="9.37">1</tspan><tspan font-size="32.30" dy="-9.37"> fraction, [A</tspan><tspan font-size="22.61" dy="9.37">1</tspan><tspan font-size="32.30" dy="-9.37">D</tspan><tspan font-size="22.61" dy="9.37">1</tspan><tspan font-size="32.30" dy="-9.37">] / [A</tspan><tspan font-size="22.61" dy="9.37">1,tot</tspan><tspan font-size="32.30" dy="-9.37">] (-)</tspan></text>
<text transform="translate(32,398.6) rotate(-90)"><tspan font-size="32.30">[A</tspan><tspan font-size="22.61" dy="9.37">2,tot</tspan><tspan font-size="32.30" dy="-9.37">] / [A</tspan><tspan font-size="22.61" dy="9.37">2,tot</tspan><tspan font-size="32.30" dy="-9.37">]</tspan><tspan font-size="22.61" dy="9.37">AS</tspan><tspan font-size="32.30" dy="-9.37"> (-)</tspan></text>
<text x="151.3" y="34.5"><tspan font-size="24.70">[A</tspan><tspan font-size="17.29" dy="7.16">1</tspan><tspan font-size="24.70" dy="-7.16">D</tspan><tspan font-size="17.29" dy="7.16">1</tspan><tspan font-size="24.70" dy="-7.16">]</tspan></text>
<text x="233" y="35" font-size="25" text-anchor="middle" style="font-family:'Noto Serif CJK SC','Noto Serif CJK JP',serif">↑</text>
<text x="273.5" y="35" font-size="25" text-anchor="middle" style="font-family:'Noto Serif CJK SC','Noto Serif CJK JP',serif">⇒</text>
<text x="306.8" y="34.5" font-size="24.7">effective clustering</text>
<text x="526.4" y="35" font-size="25" text-anchor="middle" style="font-family:'Noto Serif CJK SC','Noto Serif CJK JP',serif">↑</text>
<text x="567" y="35" font-size="25" text-anchor="middle" style="font-family:'Noto Serif CJK SC','Noto Serif CJK JP',serif">⇒</text>
<text x="600.2" y="34.5"><tspan font-size="24.70">[A</tspan><tspan font-size="17.29" dy="7.16">2,tot</tspan><tspan font-size="24.70" dy="-7.16">]</tspan></text>
<text x="677.6" y="35" font-size="25" text-anchor="middle" style="font-family:'Noto Serif CJK SC','Noto Serif CJK JP',serif">↑</text>
<g font-size="27.7">
<text x="815.8" y="35.9"><tspan font-size="27.70">A: H</tspan><tspan font-size="19.39" dy="8.03">2</tspan><tspan font-size="27.70" dy="-8.03">SO</tspan><tspan font-size="19.39" dy="8.03">4</tspan></text>
<text x="816" y="75.5"><tspan font-size="27.70">D: (CH</tspan><tspan font-size="19.39" dy="8.03">3</tspan><tspan font-size="27.70" dy="-8.03">)</tspan><tspan font-size="19.39" dy="8.03">2</tspan><tspan font-size="27.70" dy="-8.03">NH</tspan></text>
<text x="815.5" y="150">Measurements:</text>
<text x="885" y="183.8">Beijing</text>
<text x="885" y="217.5">CLOUD</text>
<text x="815.5" y="285.4">Simulation:</text>
<text x="884.5" y="318.8"><tspan font-size="27.70">[A</tspan><tspan font-size="19.39" dy="8.03">2,tot</tspan><tspan font-size="27.70" dy="-8.03">] / [A</tspan><tspan font-size="19.39" dy="8.03">2,tot</tspan><tspan font-size="27.70" dy="-8.03">]</tspan><tspan font-size="19.39" dy="8.03">AS</tspan></text>
<text x="884.5" y="358.6"><tspan font-size="27.70">[A</tspan><tspan font-size="19.39" dy="8.03">2</tspan><tspan font-size="27.70" dy="-8.03">D</tspan><tspan font-size="19.39" dy="8.03">2</tspan><tspan font-size="27.70" dy="-8.03">] / [A</tspan><tspan font-size="19.39" dy="8.03">2,tot</tspan><tspan font-size="27.70" dy="-8.03">]</tspan><tspan font-size="19.39" dy="8.03">AS</tspan></text>
<text x="821.3" y="428.7">[DMA] (ppt)</text>
</g>
<path d="M846.6,163 L858.1,174.5 L846.6,186 L835.1,174.5Z" fill="#c0c0c0" stroke="#000" stroke-width="3.6" stroke-linejoin="round"/>
<g stroke="#000" stroke-width="4" stroke-linecap="round"><line x1="838.5" y1="199.5" x2="855.5" y2="217.1"/><line x1="855.5" y1="199.5" x2="838.5" y2="217.1"/></g>
<line x1="816" y1="310" x2="877.5" y2="310" stroke="#2e7d32" stroke-width="4" stroke-linecap="round"/>
<line x1="815.4" y1="349.8" x2="871" y2="349.8" stroke="#b2001e" stroke-width="3.1" stroke-linecap="round" stroke-dasharray="13.2 9.3 1.1 9.2"/>
<defs><linearGradient id="cb" x1="0" x2="1" y1="0" y2="0">
<stop offset="0" stop-color="#8a18c8"/>
<stop offset="0.10" stop-color="#8000ff"/>
<stop offset="0.145" stop-color="#0000ff"/>
<stop offset="0.20" stop-color="#0080ff"/>
<stop offset="0.262" stop-color="#00ffff"/>
<stop offset="0.325" stop-color="#00ff00"/>
<stop offset="0.417" stop-color="#a0ff00"/>
<stop offset="0.49" stop-color="#ffff00"/>
<stop offset="0.5625" stop-color="#ffc000"/>
<stop offset="0.6125" stop-color="#ff7000"/>
<stop offset="0.645" stop-color="#ff0000"/>
<stop offset="0.825" stop-color="#ff0000"/>
<stop offset="1" stop-color="#600000"/>
</linearGradient></defs>
<rect x="815.5" y="443" width="160.5" height="30.5" fill="url(#cb)" stroke="#000" stroke-width="2.2"/>
<g stroke="#000" stroke-width="2.2">
<line x1="835.5" y1="473" x2="835.5" y2="466"/><line x1="855.5" y1="473" x2="855.5" y2="461"/>
<line x1="875.5" y1="473" x2="875.5" y2="466"/><line x1="895.5" y1="473" x2="895.5" y2="461"/>
<line x1="915.5" y1="473" x2="915.5" y2="466"/><line x1="935.5" y1="473" x2="935.5" y2="461"/>
<line x1="955.5" y1="473" x2="955.5" y2="466"/>
</g>
<g font-size="24" text-anchor="middle">
<text x="815" y="501">0</text><text x="855.5" y="501">1</text><text x="895.3" y="501">2</text><text x="935" y="501">3</text><text x="975" y="501">4</text>
</g>
</svg>
</body></html>
